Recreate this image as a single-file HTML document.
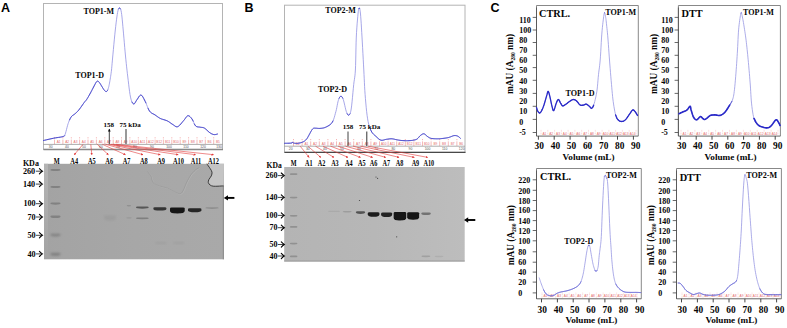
<!DOCTYPE html>
<html><head><meta charset="utf-8"><title>Figure</title><style>
html,body{margin:0;padding:0;background:#fff;width:787px;height:328px;overflow:hidden}
svg{display:block}
text{font-family:"Liberation Serif",serif;font-weight:bold;fill:#050505}
.sans{font-family:"Liberation Sans",sans-serif;font-weight:bold;fill:#000}
.fr{font-family:"Liberation Sans",sans-serif;font-weight:normal;fill:#e46a6a;font-size:3.2px}
.tk{font-family:"Liberation Sans",sans-serif;font-weight:normal;fill:#555;font-size:3.4px}
</style></head><body>
<svg width="787" height="328" viewBox="0 0 787 328">
<defs>
<filter id="blur1" x="-20%" y="-50%" width="140%" height="200%"><feGaussianBlur stdDeviation="0.8"/></filter>
<filter id="blur2" x="-20%" y="-50%" width="140%" height="200%"><feGaussianBlur stdDeviation="1.3"/></filter>
<marker id="ra" viewBox="0 0 6 6" refX="5" refY="3" markerWidth="4" markerHeight="4" orient="auto"><path d="M0,0 L6,3 L0,6 z" fill="#e23b3b"/></marker>
</defs>

<text class="sans" x="1" y="12" font-size="12.5">A</text>
<text class="sans" x="244.5" y="12" font-size="12.5">B</text>
<text class="sans" x="490.5" y="12" font-size="12.5">C</text>
<rect x="43.5" y="3.5" width="179.0" height="145.9" fill="#fff" stroke="#b4b4b4" stroke-width="1"/>
<line x1="54.5" y1="137.2" x2="54.5" y2="138.4" stroke="#e77" stroke-width="0.55"/>
<line x1="54.5" y1="139.6" x2="54.5" y2="144.1" stroke="#ec8a8a" stroke-width="0.6"/>
<line x1="62.9" y1="137.2" x2="62.9" y2="138.4" stroke="#e77" stroke-width="0.55"/>
<line x1="62.9" y1="139.6" x2="62.9" y2="144.1" stroke="#ec8a8a" stroke-width="0.6"/>
<line x1="71.3" y1="137.2" x2="71.3" y2="138.4" stroke="#e77" stroke-width="0.55"/>
<line x1="71.3" y1="139.6" x2="71.3" y2="144.1" stroke="#ec8a8a" stroke-width="0.6"/>
<line x1="79.6" y1="137.2" x2="79.6" y2="138.4" stroke="#e77" stroke-width="0.55"/>
<line x1="79.6" y1="139.6" x2="79.6" y2="144.1" stroke="#ec8a8a" stroke-width="0.6"/>
<line x1="88.0" y1="137.2" x2="88.0" y2="138.4" stroke="#e77" stroke-width="0.55"/>
<line x1="88.0" y1="139.6" x2="88.0" y2="144.1" stroke="#ec8a8a" stroke-width="0.6"/>
<line x1="96.4" y1="137.2" x2="96.4" y2="138.4" stroke="#e77" stroke-width="0.55"/>
<line x1="96.4" y1="139.6" x2="96.4" y2="144.1" stroke="#ec8a8a" stroke-width="0.6"/>
<line x1="104.8" y1="137.2" x2="104.8" y2="138.4" stroke="#e77" stroke-width="0.55"/>
<line x1="104.8" y1="139.6" x2="104.8" y2="144.1" stroke="#ec8a8a" stroke-width="0.6"/>
<line x1="113.2" y1="137.2" x2="113.2" y2="138.4" stroke="#e77" stroke-width="0.55"/>
<line x1="113.2" y1="139.6" x2="113.2" y2="144.1" stroke="#ec8a8a" stroke-width="0.6"/>
<line x1="121.5" y1="137.2" x2="121.5" y2="138.4" stroke="#e77" stroke-width="0.55"/>
<line x1="121.5" y1="139.6" x2="121.5" y2="144.1" stroke="#ec8a8a" stroke-width="0.6"/>
<line x1="129.9" y1="137.2" x2="129.9" y2="138.4" stroke="#e77" stroke-width="0.55"/>
<line x1="129.9" y1="139.6" x2="129.9" y2="144.1" stroke="#ec8a8a" stroke-width="0.6"/>
<line x1="138.3" y1="137.2" x2="138.3" y2="138.4" stroke="#e77" stroke-width="0.55"/>
<line x1="138.3" y1="139.6" x2="138.3" y2="144.1" stroke="#ec8a8a" stroke-width="0.6"/>
<line x1="146.7" y1="137.2" x2="146.7" y2="138.4" stroke="#e77" stroke-width="0.55"/>
<line x1="146.7" y1="139.6" x2="146.7" y2="144.1" stroke="#ec8a8a" stroke-width="0.6"/>
<line x1="155.1" y1="137.2" x2="155.1" y2="138.4" stroke="#e77" stroke-width="0.55"/>
<line x1="155.1" y1="139.6" x2="155.1" y2="144.1" stroke="#ec8a8a" stroke-width="0.6"/>
<line x1="163.4" y1="137.2" x2="163.4" y2="138.4" stroke="#e77" stroke-width="0.55"/>
<line x1="163.4" y1="139.6" x2="163.4" y2="144.1" stroke="#ec8a8a" stroke-width="0.6"/>
<line x1="171.8" y1="137.2" x2="171.8" y2="138.4" stroke="#e77" stroke-width="0.55"/>
<line x1="171.8" y1="139.6" x2="171.8" y2="144.1" stroke="#ec8a8a" stroke-width="0.6"/>
<line x1="180.2" y1="137.2" x2="180.2" y2="138.4" stroke="#e77" stroke-width="0.55"/>
<line x1="180.2" y1="139.6" x2="180.2" y2="144.1" stroke="#ec8a8a" stroke-width="0.6"/>
<line x1="188.6" y1="137.2" x2="188.6" y2="138.4" stroke="#e77" stroke-width="0.55"/>
<line x1="188.6" y1="139.6" x2="188.6" y2="144.1" stroke="#ec8a8a" stroke-width="0.6"/>
<line x1="197.0" y1="137.2" x2="197.0" y2="138.4" stroke="#e77" stroke-width="0.55"/>
<line x1="197.0" y1="139.6" x2="197.0" y2="144.1" stroke="#ec8a8a" stroke-width="0.6"/>
<line x1="205.3" y1="137.2" x2="205.3" y2="138.4" stroke="#e77" stroke-width="0.55"/>
<line x1="205.3" y1="139.6" x2="205.3" y2="144.1" stroke="#ec8a8a" stroke-width="0.6"/>
<line x1="213.7" y1="137.2" x2="213.7" y2="138.4" stroke="#e77" stroke-width="0.55"/>
<line x1="213.7" y1="139.6" x2="213.7" y2="144.1" stroke="#ec8a8a" stroke-width="0.6"/>
<text class="fr" x="58.7" y="142.8" text-anchor="middle">A1</text>
<text class="fr" x="67.1" y="142.8" text-anchor="middle">A2</text>
<text class="fr" x="75.5" y="142.8" text-anchor="middle">A3</text>
<text class="fr" x="83.8" y="142.8" text-anchor="middle">A4</text>
<text class="fr" x="92.2" y="142.8" text-anchor="middle">A5</text>
<text class="fr" x="100.6" y="142.8" text-anchor="middle">A6</text>
<text class="fr" x="109.0" y="142.8" text-anchor="middle">A7</text>
<text class="fr" x="117.4" y="142.8" text-anchor="middle">A8</text>
<text class="fr" x="125.7" y="142.8" text-anchor="middle">A9</text>
<text class="fr" x="134.1" y="142.8" text-anchor="middle">A10</text>
<text class="fr" x="142.5" y="142.8" text-anchor="middle">A11</text>
<text class="fr" x="150.9" y="142.8" text-anchor="middle">A12</text>
<text class="fr" x="159.2" y="142.8" text-anchor="middle">B12</text>
<text class="fr" x="167.6" y="142.8" text-anchor="middle">B11</text>
<text class="fr" x="176.0" y="142.8" text-anchor="middle">B10</text>
<text class="fr" x="184.4" y="142.8" text-anchor="middle">B9</text>
<text class="fr" x="192.8" y="142.8" text-anchor="middle">B8</text>
<text class="fr" x="201.2" y="142.8" text-anchor="middle">B7</text>
<text class="fr" x="209.5" y="142.8" text-anchor="middle">B6</text>
<text class="fr" x="217.9" y="142.8" text-anchor="middle">B5</text>
<line x1="43.5" y1="144.4" x2="222.5" y2="144.4" stroke="#8a8a8a" stroke-width="0.7"/>
<text class="tk" x="50.7" y="147.8" text-anchor="middle">30</text>
<text class="tk" x="67.0" y="147.8" text-anchor="middle">40</text>
<text class="tk" x="84.0" y="147.8" text-anchor="middle">50</text>
<text class="tk" x="101.0" y="147.8" text-anchor="middle">60</text>
<text class="tk" x="118.0" y="147.8" text-anchor="middle">70</text>
<text class="tk" x="135.0" y="147.8" text-anchor="middle">80</text>
<text class="tk" x="152.0" y="147.8" text-anchor="middle">90</text>
<text class="tk" x="169.0" y="147.8" text-anchor="middle">100</text>
<text class="tk" x="186.0" y="147.8" text-anchor="middle">110</text>
<text class="tk" x="203.0" y="147.8" text-anchor="middle">120</text>
<text class="tk" x="219.0" y="147.8" text-anchor="middle">130</text>
<line x1="43.5" y1="149.4" x2="223.0" y2="149.4" stroke="#888" stroke-width="1.5"/>
<polyline points="43.50,140.50 44.62,140.24 46.19,139.88 48.03,139.45 50.00,139.00 51.95,138.57 53.70,138.20 55.36,137.90 57.07,137.64 58.74,137.39 60.31,137.15 61.69,136.89 62.80,136.60 63.57,136.37 64.04,136.23 64.33,136.07 64.53,135.79 64.75,135.27 65.10,134.40 65.56,133.06 66.04,131.32 66.55,129.34 67.07,127.29 67.59,125.36 68.10,123.70 68.60,122.30 69.10,121.01 69.60,119.83 70.11,118.75 70.64,117.77 71.20,116.90 71.79,116.18 72.41,115.62 73.06,115.16 73.71,114.75 74.36,114.31 75.00,113.80 75.61,113.25 76.21,112.72 76.80,112.17 77.41,111.57 78.07,110.86 78.80,110.00 79.64,108.91 80.59,107.61 81.58,106.21 82.55,104.82 83.44,103.54 84.20,102.50 84.78,101.75 85.23,101.23 85.61,100.83 85.96,100.44 86.34,99.97 86.80,99.30 87.35,98.42 87.96,97.42 88.59,96.33 89.23,95.19 89.88,94.03 90.50,92.90 91.12,91.75 91.76,90.53 92.39,89.31 93.00,88.11 93.58,86.99 94.10,86.00 94.57,85.12 94.99,84.30 95.38,83.56 95.74,82.91 96.08,82.35 96.40,81.90 96.69,81.56 96.95,81.33 97.19,81.19 97.41,81.14 97.65,81.14 97.90,81.20 98.16,81.31 98.43,81.49 98.70,81.72 98.98,82.03 99.28,82.39 99.60,82.80 99.95,83.30 100.32,83.88 100.71,84.53 101.11,85.20 101.51,85.86 101.90,86.50 102.29,87.13 102.69,87.79 103.08,88.44 103.47,89.07 103.85,89.63 104.20,90.10 104.53,90.49 104.85,90.81 105.16,91.08 105.45,91.29 105.73,91.43 106.00,91.50 106.26,91.52 106.50,91.49 106.73,91.39 106.95,91.22 107.17,90.96 107.40,90.60 107.63,90.14 107.87,89.59 108.10,88.96 108.33,88.23 108.57,87.41 108.80,86.50 109.03,85.48 109.27,84.34 109.51,83.11 109.74,81.81 109.97,80.47 110.20,79.10 110.42,77.72 110.65,76.30 110.87,74.84 111.09,73.31 111.30,71.70 111.50,70.00 111.68,68.35 111.82,66.81 111.96,65.18 112.12,63.29 112.33,60.96 112.60,58.00 112.96,54.14 113.40,49.46 113.87,44.34 114.37,39.15 114.85,34.24 115.30,30.00 115.71,26.33 116.11,22.91 116.50,19.78 116.88,16.98 117.24,14.54 117.60,12.50 117.94,10.89 118.26,9.70 118.57,8.88 118.88,8.35 119.19,8.08 119.50,8.00 119.82,8.08 120.14,8.35 120.46,8.88 120.77,9.70 121.09,10.89 121.40,12.50 121.70,14.57 121.99,17.06 122.28,19.91 122.57,23.06 122.87,26.44 123.20,30.00 123.55,33.90 123.93,38.22 124.32,42.78 124.71,47.39 125.11,51.86 125.50,56.00 125.88,59.80 126.25,63.40 126.62,66.87 127.00,70.25 127.39,73.61 127.80,77.00 128.22,80.55 128.66,84.26 129.10,87.93 129.56,91.41 130.02,94.52 130.50,97.10 130.99,99.14 131.50,100.79 132.01,102.07 132.54,103.01 133.07,103.65 133.60,104.00 134.13,103.95 134.66,103.44 135.19,102.63 135.73,101.66 136.30,100.66 136.90,99.80 137.54,98.91 138.20,97.83 138.89,96.74 139.60,95.79 140.30,95.16 141.00,95.00 141.69,95.38 142.39,96.18 143.08,97.29 143.78,98.60 144.49,100.01 145.20,101.40 145.91,102.91 146.61,104.64 147.32,106.47 148.05,108.26 148.81,109.88 149.60,111.20 150.44,112.17 151.33,112.89 152.24,113.44 153.16,113.90 154.09,114.36 155.00,114.90 155.88,115.52 156.74,116.15 157.61,116.78 158.49,117.39 159.41,117.97 160.40,118.50 161.48,118.96 162.64,119.34 163.84,119.70 165.05,120.06 166.21,120.44 167.30,120.90 168.30,121.45 169.26,122.06 170.18,122.71 171.06,123.36 171.93,123.97 172.80,124.50 173.64,125.05 174.43,125.65 175.21,126.22 176.00,126.65 176.82,126.84 177.70,126.70 178.67,126.12 179.72,125.17 180.80,123.98 181.87,122.70 182.89,121.46 183.80,120.40 184.60,119.43 185.31,118.42 185.98,117.45 186.61,116.61 187.24,116.00 187.90,115.70 188.59,115.75 189.29,116.07 189.98,116.62 190.67,117.34 191.35,118.15 192.00,119.00 192.62,120.01 193.20,121.24 193.77,122.58 194.34,123.88 194.95,125.03 195.60,125.90 196.31,126.45 197.07,126.76 197.86,126.93 198.66,127.00 199.44,127.07 200.20,127.20 200.91,127.33 201.59,127.39 202.25,127.44 202.93,127.54 203.64,127.74 204.40,128.10 205.24,128.68 206.16,129.46 207.10,130.34 208.04,131.23 208.96,132.05 209.80,132.70 210.58,133.20 211.31,133.63 212.01,133.97 212.69,134.25 213.35,134.46 214.00,134.60 214.68,134.64 215.38,134.56 216.06,134.42 216.69,134.25 217.22,134.09 217.60,134.00" fill="none" stroke="#8a8ae0" stroke-width="0.75" stroke-linejoin="round"/>
<polyline points="43.50,140.50 44.62,140.24 46.19,139.88 48.03,139.45 50.00,139.00 51.95,138.57 53.70,138.20 55.36,137.90 57.07,137.64 58.74,137.39 60.31,137.15 61.69,136.89 62.80,136.60 63.57,136.37 64.04,136.23 64.33,136.07 64.53,135.79" fill="none" stroke="#3c3cc8" stroke-width="0.85" stroke-linejoin="round" stroke-linecap="round"/>
<polyline points="69.60,119.83 70.11,118.75 70.64,117.77 71.20,116.90 71.79,116.18 72.41,115.62 73.06,115.16 73.71,114.75 74.36,114.31 75.00,113.80 75.61,113.25 76.21,112.72 76.80,112.17 77.41,111.57 78.07,110.86 78.80,110.00 79.64,108.91 80.59,107.61 81.58,106.21 82.55,104.82 83.44,103.54 84.20,102.50 84.78,101.75 85.23,101.23 85.61,100.83 85.96,100.44 86.34,99.97 86.80,99.30 87.35,98.42 87.96,97.42 88.59,96.33 89.23,95.19 89.88,94.03 90.50,92.90 91.12,91.75 91.76,90.53 92.39,89.31 93.00,88.11 93.58,86.99 94.10,86.00 94.57,85.12 94.99,84.30 95.38,83.56 95.74,82.91 96.08,82.35 96.40,81.90 96.69,81.56 96.95,81.33 97.19,81.19 97.41,81.14 97.65,81.14 97.90,81.20 98.16,81.31 98.43,81.49 98.70,81.72 98.98,82.03 99.28,82.39 99.60,82.80 99.95,83.30 100.32,83.88 100.71,84.53 101.11,85.20 101.51,85.86 101.90,86.50 102.29,87.13 102.69,87.79 103.08,88.44 103.47,89.07 103.85,89.63 104.20,90.10 104.53,90.49 104.85,90.81 105.16,91.08 105.45,91.29 105.73,91.43 106.00,91.50 106.26,91.52 106.50,91.49 106.73,91.39 106.95,91.22 107.17,90.96 107.40,90.60 107.63,90.14" fill="none" stroke="#3c3cc8" stroke-width="0.85" stroke-linejoin="round" stroke-linecap="round"/>
<polyline points="118.57,8.88 118.88,8.35 119.19,8.08 119.50,8.00 119.82,8.08 120.14,8.35 120.46,8.88" fill="none" stroke="#3c3cc8" stroke-width="0.85" stroke-linejoin="round" stroke-linecap="round"/>
<polyline points="132.01,102.07 132.54,103.01 133.07,103.65 133.60,104.00 134.13,103.95 134.66,103.44 135.19,102.63 135.73,101.66 136.30,100.66 136.90,99.80 137.54,98.91 138.20,97.83 138.89,96.74 139.60,95.79 140.30,95.16 141.00,95.00 141.69,95.38 142.39,96.18 143.08,97.29 143.78,98.60 144.49,100.01 145.20,101.40 145.91,102.91" fill="none" stroke="#3c3cc8" stroke-width="0.85" stroke-linejoin="round" stroke-linecap="round"/>
<polyline points="148.05,108.26 148.81,109.88 149.60,111.20 150.44,112.17 151.33,112.89 152.24,113.44 153.16,113.90 154.09,114.36 155.00,114.90 155.88,115.52 156.74,116.15 157.61,116.78 158.49,117.39 159.41,117.97 160.40,118.50 161.48,118.96 162.64,119.34 163.84,119.70 165.05,120.06 166.21,120.44 167.30,120.90 168.30,121.45 169.26,122.06 170.18,122.71 171.06,123.36 171.93,123.97 172.80,124.50 173.64,125.05 174.43,125.65 175.21,126.22 176.00,126.65 176.82,126.84 177.70,126.70 178.67,126.12 179.72,125.17 180.80,123.98 181.87,122.70 182.89,121.46 183.80,120.40 184.60,119.43 185.31,118.42 185.98,117.45 186.61,116.61 187.24,116.00 187.90,115.70 188.59,115.75 189.29,116.07 189.98,116.62 190.67,117.34 191.35,118.15 192.00,119.00 192.62,120.01 193.20,121.24" fill="none" stroke="#3c3cc8" stroke-width="0.85" stroke-linejoin="round" stroke-linecap="round"/>
<polyline points="194.34,123.88 194.95,125.03 195.60,125.90 196.31,126.45 197.07,126.76 197.86,126.93 198.66,127.00 199.44,127.07 200.20,127.20 200.91,127.33 201.59,127.39 202.25,127.44 202.93,127.54 203.64,127.74 204.40,128.10 205.24,128.68 206.16,129.46 207.10,130.34 208.04,131.23 208.96,132.05 209.80,132.70 210.58,133.20 211.31,133.63 212.01,133.97 212.69,134.25 213.35,134.46 214.00,134.60 214.68,134.64 215.38,134.56 216.06,134.42 216.69,134.25 217.22,134.09 217.60,134.00" fill="none" stroke="#3c3cc8" stroke-width="0.85" stroke-linejoin="round" stroke-linecap="round"/>
<text x="98.8" y="13.9" font-size="8" text-anchor="middle">TOP1-M</text>
<text x="89.7" y="78.1" font-size="8" text-anchor="middle">TOP1-D</text>
<text x="108.8" y="126.9" font-size="7" text-anchor="middle">158</text>
<text x="130.2" y="126.9" font-size="7" text-anchor="middle">75 kDa</text>
<line x1="109.3" y1="129" x2="109.3" y2="144" stroke="#111" stroke-width="0.8"/>
<path d="M107.9,131.5 L109.3,128.8 L110.7,131.5z" fill="#111"/>
<line x1="126" y1="129" x2="126" y2="144" stroke="#555" stroke-width="1.2"/>
<rect x="284.5" y="5.2" width="180.5" height="147.1" fill="#fff" stroke="#b4b4b4" stroke-width="1"/>
<line x1="293.5" y1="139.0" x2="293.5" y2="140.2" stroke="#e77" stroke-width="0.55"/>
<line x1="293.5" y1="141.4" x2="293.5" y2="145.9" stroke="#ec8a8a" stroke-width="0.6"/>
<line x1="302.1" y1="139.0" x2="302.1" y2="140.2" stroke="#e77" stroke-width="0.55"/>
<line x1="302.1" y1="141.4" x2="302.1" y2="145.9" stroke="#ec8a8a" stroke-width="0.6"/>
<line x1="310.7" y1="139.0" x2="310.7" y2="140.2" stroke="#e77" stroke-width="0.55"/>
<line x1="310.7" y1="141.4" x2="310.7" y2="145.9" stroke="#ec8a8a" stroke-width="0.6"/>
<line x1="319.3" y1="139.0" x2="319.3" y2="140.2" stroke="#e77" stroke-width="0.55"/>
<line x1="319.3" y1="141.4" x2="319.3" y2="145.9" stroke="#ec8a8a" stroke-width="0.6"/>
<line x1="327.9" y1="139.0" x2="327.9" y2="140.2" stroke="#e77" stroke-width="0.55"/>
<line x1="327.9" y1="141.4" x2="327.9" y2="145.9" stroke="#ec8a8a" stroke-width="0.6"/>
<line x1="336.5" y1="139.0" x2="336.5" y2="140.2" stroke="#e77" stroke-width="0.55"/>
<line x1="336.5" y1="141.4" x2="336.5" y2="145.9" stroke="#ec8a8a" stroke-width="0.6"/>
<line x1="345.1" y1="139.0" x2="345.1" y2="140.2" stroke="#e77" stroke-width="0.55"/>
<line x1="345.1" y1="141.4" x2="345.1" y2="145.9" stroke="#ec8a8a" stroke-width="0.6"/>
<line x1="353.7" y1="139.0" x2="353.7" y2="140.2" stroke="#e77" stroke-width="0.55"/>
<line x1="353.7" y1="141.4" x2="353.7" y2="145.9" stroke="#ec8a8a" stroke-width="0.6"/>
<line x1="362.3" y1="139.0" x2="362.3" y2="140.2" stroke="#e77" stroke-width="0.55"/>
<line x1="362.3" y1="141.4" x2="362.3" y2="145.9" stroke="#ec8a8a" stroke-width="0.6"/>
<line x1="370.9" y1="139.0" x2="370.9" y2="140.2" stroke="#e77" stroke-width="0.55"/>
<line x1="370.9" y1="141.4" x2="370.9" y2="145.9" stroke="#ec8a8a" stroke-width="0.6"/>
<line x1="379.5" y1="139.0" x2="379.5" y2="140.2" stroke="#e77" stroke-width="0.55"/>
<line x1="379.5" y1="141.4" x2="379.5" y2="145.9" stroke="#ec8a8a" stroke-width="0.6"/>
<line x1="388.1" y1="139.0" x2="388.1" y2="140.2" stroke="#e77" stroke-width="0.55"/>
<line x1="388.1" y1="141.4" x2="388.1" y2="145.9" stroke="#ec8a8a" stroke-width="0.6"/>
<line x1="396.7" y1="139.0" x2="396.7" y2="140.2" stroke="#e77" stroke-width="0.55"/>
<line x1="396.7" y1="141.4" x2="396.7" y2="145.9" stroke="#ec8a8a" stroke-width="0.6"/>
<line x1="405.3" y1="139.0" x2="405.3" y2="140.2" stroke="#e77" stroke-width="0.55"/>
<line x1="405.3" y1="141.4" x2="405.3" y2="145.9" stroke="#ec8a8a" stroke-width="0.6"/>
<line x1="413.9" y1="139.0" x2="413.9" y2="140.2" stroke="#e77" stroke-width="0.55"/>
<line x1="413.9" y1="141.4" x2="413.9" y2="145.9" stroke="#ec8a8a" stroke-width="0.6"/>
<line x1="422.5" y1="139.0" x2="422.5" y2="140.2" stroke="#e77" stroke-width="0.55"/>
<line x1="422.5" y1="141.4" x2="422.5" y2="145.9" stroke="#ec8a8a" stroke-width="0.6"/>
<line x1="431.1" y1="139.0" x2="431.1" y2="140.2" stroke="#e77" stroke-width="0.55"/>
<line x1="431.1" y1="141.4" x2="431.1" y2="145.9" stroke="#ec8a8a" stroke-width="0.6"/>
<line x1="439.7" y1="139.0" x2="439.7" y2="140.2" stroke="#e77" stroke-width="0.55"/>
<line x1="439.7" y1="141.4" x2="439.7" y2="145.9" stroke="#ec8a8a" stroke-width="0.6"/>
<line x1="448.3" y1="139.0" x2="448.3" y2="140.2" stroke="#e77" stroke-width="0.55"/>
<line x1="448.3" y1="141.4" x2="448.3" y2="145.9" stroke="#ec8a8a" stroke-width="0.6"/>
<line x1="456.9" y1="139.0" x2="456.9" y2="140.2" stroke="#e77" stroke-width="0.55"/>
<line x1="456.9" y1="141.4" x2="456.9" y2="145.9" stroke="#ec8a8a" stroke-width="0.6"/>
<text class="fr" x="297.8" y="144.6" text-anchor="middle">B2</text>
<text class="fr" x="306.4" y="144.6" text-anchor="middle">A1</text>
<text class="fr" x="315.0" y="144.6" text-anchor="middle">A2</text>
<text class="fr" x="323.6" y="144.6" text-anchor="middle">A3</text>
<text class="fr" x="332.2" y="144.6" text-anchor="middle">A4</text>
<text class="fr" x="340.8" y="144.6" text-anchor="middle">A5</text>
<text class="fr" x="349.4" y="144.6" text-anchor="middle">A6</text>
<text class="fr" x="358.0" y="144.6" text-anchor="middle">A7</text>
<text class="fr" x="366.6" y="144.6" text-anchor="middle">A8</text>
<text class="fr" x="375.2" y="144.6" text-anchor="middle">A9</text>
<text class="fr" x="383.8" y="144.6" text-anchor="middle">A10</text>
<text class="fr" x="392.4" y="144.6" text-anchor="middle">A11</text>
<text class="fr" x="401.0" y="144.6" text-anchor="middle">A12</text>
<text class="fr" x="409.6" y="144.6" text-anchor="middle">B12</text>
<text class="fr" x="418.2" y="144.6" text-anchor="middle">B11</text>
<text class="fr" x="426.8" y="144.6" text-anchor="middle">B10</text>
<text class="fr" x="435.4" y="144.6" text-anchor="middle">B9</text>
<text class="fr" x="444.0" y="144.6" text-anchor="middle">B8</text>
<text class="fr" x="452.6" y="144.6" text-anchor="middle">B7</text>
<text class="fr" x="461.2" y="144.6" text-anchor="middle">B6</text>
<line x1="284.5" y1="146.2" x2="465.0" y2="146.2" stroke="#8a8a8a" stroke-width="0.7"/>
<text class="tk" x="290.7" y="149.6" text-anchor="middle">20</text>
<text class="tk" x="307.8" y="149.6" text-anchor="middle">30</text>
<text class="tk" x="324.9" y="149.6" text-anchor="middle">40</text>
<text class="tk" x="342.0" y="149.6" text-anchor="middle">50</text>
<text class="tk" x="359.1" y="149.6" text-anchor="middle">60</text>
<text class="tk" x="376.2" y="149.6" text-anchor="middle">70</text>
<text class="tk" x="393.3" y="149.6" text-anchor="middle">80</text>
<text class="tk" x="410.4" y="149.6" text-anchor="middle">90</text>
<text class="tk" x="427.5" y="149.6" text-anchor="middle">100</text>
<text class="tk" x="444.6" y="149.6" text-anchor="middle">110</text>
<text class="tk" x="461.7" y="149.6" text-anchor="middle">120</text>
<line x1="284.5" y1="152.3" x2="465.5" y2="152.3" stroke="#2a2a2a" stroke-width="1.0"/>
<polyline points="284.50,143.30 285.29,143.28 286.44,143.27 287.77,143.24 289.13,143.21 290.32,143.16 291.20,143.10 291.71,143.00 292.00,142.85 292.12,142.69 292.18,142.55 292.25,142.44 292.40,142.40 292.61,142.44 292.81,142.54 293.01,142.69 293.25,142.84 293.54,142.99 293.90,143.10 294.35,143.19 294.86,143.27 295.43,143.35 296.04,143.40 296.67,143.42 297.30,143.40 297.97,143.33 298.68,143.21 299.42,143.06 300.15,142.89 300.85,142.70 301.50,142.50 302.09,142.29 302.64,142.07 303.17,141.84 303.67,141.58 304.14,141.30 304.60,141.00 305.03,140.68 305.43,140.35 305.81,139.99 306.17,139.61 306.53,139.18 306.90,138.70 307.27,138.16 307.64,137.56 308.00,136.92 308.36,136.25 308.73,135.57 309.10,134.90 309.48,134.20 309.87,133.46 310.27,132.71 310.66,131.97 311.04,131.29 311.40,130.70 311.73,130.18 312.03,129.71 312.33,129.30 312.62,128.94 312.94,128.64 313.30,128.40 313.69,128.24 314.09,128.16 314.52,128.14 314.97,128.16 315.47,128.19 316.00,128.20 316.57,128.23 317.17,128.29 317.81,128.36 318.49,128.42 319.22,128.44 320.00,128.40 320.84,128.32 321.74,128.24 322.69,128.11 323.68,127.92 324.68,127.62 325.70,127.20 326.77,126.68 327.91,126.09 329.07,125.41 330.21,124.59 331.27,123.59 332.20,122.40 332.99,120.94 333.69,119.22 334.31,117.34 334.87,115.37 335.39,113.39 335.90,111.50 336.38,109.59 336.80,107.59 337.18,105.58 337.55,103.67 337.92,101.94 338.30,100.50 338.70,99.32 339.10,98.33 339.49,97.52 339.89,96.91 340.29,96.50 340.70,96.30 341.10,96.28 341.50,96.43 341.91,96.77 342.32,97.35 342.75,98.18 343.20,99.30 343.69,100.90 344.21,103.00 344.75,105.36 345.29,107.73 345.81,109.86 346.30,111.50 346.75,112.71 347.18,113.70 347.59,114.44 348.00,114.94 348.40,115.16 348.80,115.10 349.20,114.86 349.60,114.46 350.00,113.80 350.40,112.75 350.80,111.19 351.20,109.00 351.62,105.88 352.06,101.86 352.49,97.33 352.92,92.69 353.33,88.31 353.70,84.60 354.04,81.81 354.36,79.69 354.65,77.84 354.92,75.87 355.17,73.38 355.40,70.00 355.59,65.45 355.73,59.99 355.85,54.03 355.97,47.94 356.11,42.13 356.30,37.00 356.54,32.39 356.83,27.96 357.13,23.81 357.44,20.04 357.74,16.73 358.00,14.00 358.23,11.88 358.43,10.30 358.62,9.19 358.81,8.48 359.00,8.11 359.20,8.00 359.41,8.11 359.62,8.48 359.83,9.19 360.05,10.30 360.27,11.88 360.50,14.00 360.73,16.73 360.97,20.04 361.22,23.81 361.47,27.96 361.73,32.39 362.00,37.00 362.29,42.02 362.60,47.58 362.91,53.41 363.23,59.27 363.53,64.88 363.80,70.00 364.03,74.56 364.23,78.77 364.41,82.74 364.60,86.59 364.82,90.43 365.10,94.40 365.43,98.61 365.80,102.99 366.21,107.36 366.64,111.57 367.11,115.44 367.60,118.80 368.12,121.62 368.67,124.02 369.25,126.08 369.86,127.88 370.51,129.50 371.20,131.00 371.94,132.33 372.74,133.40 373.57,134.28 374.42,135.05 375.27,135.77 376.10,136.50 376.91,137.27 377.71,138.04 378.51,138.75 379.32,139.37 380.15,139.87 381.00,140.20 381.88,140.31 382.79,140.23 383.72,140.01 384.65,139.74 385.58,139.48 386.50,139.30 387.40,139.18 388.30,139.04 389.20,138.93 390.10,138.83 391.00,138.79 391.90,138.80 392.81,138.90 393.73,139.06 394.64,139.28 395.56,139.50 396.48,139.72 397.40,139.90 398.30,140.05 399.17,140.19 400.04,140.32 400.93,140.43 401.88,140.53 402.90,140.60 404.02,140.66 405.23,140.70 406.49,140.72 407.77,140.72 409.01,140.68 410.20,140.60 411.35,140.49 412.50,140.35 413.62,140.18 414.70,139.96 415.70,139.67 416.60,139.30 417.37,138.80 418.04,138.17 418.63,137.48 419.17,136.78 419.72,136.13 420.30,135.60 420.90,135.14 421.50,134.69 422.10,134.29 422.70,133.99 423.30,133.81 423.90,133.80 424.51,134.01 425.13,134.43 425.75,134.97 426.37,135.57 426.99,136.14 427.60,136.60 428.17,136.97 428.70,137.33 429.23,137.65 429.80,137.94 430.44,138.19 431.20,138.40 432.12,138.56 433.16,138.67 434.28,138.74 435.43,138.78 436.55,138.80 437.60,138.80 438.57,138.79 439.50,138.74 440.41,138.68 441.30,138.60 442.19,138.50 443.10,138.40 444.02,138.29 444.93,138.17 445.85,138.04 446.77,137.89 447.68,137.71 448.60,137.50 449.54,137.21 450.50,136.85 451.46,136.46 452.40,136.09 453.29,135.78 454.10,135.60 454.83,135.54 455.50,135.56 456.12,135.64 456.71,135.79 457.26,135.98 457.80,136.20 458.34,136.50 458.87,136.90 459.38,137.34 459.84,137.77 460.22,138.14 460.50,138.40" fill="none" stroke="#8a8ae0" stroke-width="0.75" stroke-linejoin="round"/>
<polyline points="284.50,143.30 285.29,143.28 286.44,143.27 287.77,143.24 289.13,143.21 290.32,143.16 291.20,143.10 291.71,143.00 292.00,142.85 292.12,142.69" fill="none" stroke="#3c3cc8" stroke-width="0.85" stroke-linejoin="round" stroke-linecap="round"/>
<polyline points="292.18,142.55 292.25,142.44 292.40,142.40 292.61,142.44 292.81,142.54 293.01,142.69 293.25,142.84 293.54,142.99 293.90,143.10 294.35,143.19 294.86,143.27 295.43,143.35 296.04,143.40 296.67,143.42 297.30,143.40 297.97,143.33 298.68,143.21 299.42,143.06 300.15,142.89 300.85,142.70 301.50,142.50 302.09,142.29 302.64,142.07 303.17,141.84 303.67,141.58 304.14,141.30 304.60,141.00 305.03,140.68 305.43,140.35 305.81,139.99 306.17,139.61 306.53,139.18 306.90,138.70 307.27,138.16 307.64,137.56 308.00,136.92 308.36,136.25 308.73,135.57 309.10,134.90 309.48,134.20 309.87,133.46 310.27,132.71 310.66,131.97 311.04,131.29 311.40,130.70 311.73,130.18 312.03,129.71 312.33,129.30 312.62,128.94 312.94,128.64 313.30,128.40 313.69,128.24 314.09,128.16 314.52,128.14 314.97,128.16 315.47,128.19 316.00,128.20 316.57,128.23 317.17,128.29 317.81,128.36 318.49,128.42 319.22,128.44 320.00,128.40 320.84,128.32 321.74,128.24 322.69,128.11 323.68,127.92 324.68,127.62 325.70,127.20 326.77,126.68 327.91,126.09 329.07,125.41 330.21,124.59 331.27,123.59 332.20,122.40 332.99,120.94" fill="none" stroke="#3c3cc8" stroke-width="0.85" stroke-linejoin="round" stroke-linecap="round"/>
<polyline points="339.10,98.33 339.49,97.52 339.89,96.91 340.29,96.50 340.70,96.30 341.10,96.28 341.50,96.43 341.91,96.77 342.32,97.35 342.75,98.18" fill="none" stroke="#3c3cc8" stroke-width="0.85" stroke-linejoin="round" stroke-linecap="round"/>
<polyline points="347.18,113.70 347.59,114.44 348.00,114.94 348.40,115.16 348.80,115.10 349.20,114.86 349.60,114.46 350.00,113.80" fill="none" stroke="#3c3cc8" stroke-width="0.85" stroke-linejoin="round" stroke-linecap="round"/>
<polyline points="358.81,8.48 359.00,8.11 359.20,8.00 359.41,8.11 359.62,8.48" fill="none" stroke="#3c3cc8" stroke-width="0.85" stroke-linejoin="round" stroke-linecap="round"/>
<polyline points="370.51,129.50 371.20,131.00 371.94,132.33 372.74,133.40 373.57,134.28 374.42,135.05 375.27,135.77 376.10,136.50 376.91,137.27 377.71,138.04 378.51,138.75 379.32,139.37 380.15,139.87 381.00,140.20 381.88,140.31 382.79,140.23 383.72,140.01 384.65,139.74 385.58,139.48 386.50,139.30 387.40,139.18 388.30,139.04 389.20,138.93 390.10,138.83 391.00,138.79 391.90,138.80 392.81,138.90 393.73,139.06 394.64,139.28 395.56,139.50 396.48,139.72 397.40,139.90 398.30,140.05 399.17,140.19 400.04,140.32 400.93,140.43 401.88,140.53 402.90,140.60 404.02,140.66 405.23,140.70 406.49,140.72 407.77,140.72 409.01,140.68 410.20,140.60 411.35,140.49 412.50,140.35 413.62,140.18 414.70,139.96 415.70,139.67 416.60,139.30 417.37,138.80 418.04,138.17 418.63,137.48 419.17,136.78 419.72,136.13 420.30,135.60 420.90,135.14 421.50,134.69 422.10,134.29 422.70,133.99 423.30,133.81 423.90,133.80 424.51,134.01 425.13,134.43 425.75,134.97 426.37,135.57 426.99,136.14 427.60,136.60 428.17,136.97 428.70,137.33 429.23,137.65 429.80,137.94 430.44,138.19 431.20,138.40 432.12,138.56 433.16,138.67 434.28,138.74 435.43,138.78 436.55,138.80 437.60,138.80 438.57,138.79 439.50,138.74 440.41,138.68 441.30,138.60 442.19,138.50 443.10,138.40 444.02,138.29 444.93,138.17 445.85,138.04 446.77,137.89 447.68,137.71 448.60,137.50 449.54,137.21 450.50,136.85 451.46,136.46 452.40,136.09 453.29,135.78 454.10,135.60 454.83,135.54 455.50,135.56 456.12,135.64 456.71,135.79 457.26,135.98 457.80,136.20 458.34,136.50 458.87,136.90 459.38,137.34 459.84,137.77 460.22,138.14 460.50,138.40" fill="none" stroke="#3c3cc8" stroke-width="0.85" stroke-linejoin="round" stroke-linecap="round"/>
<text x="340.5" y="13.2" font-size="8" text-anchor="middle">TOP2-M</text>
<text x="332.5" y="92.4" font-size="8.1" text-anchor="middle">TOP2-D</text>
<text x="348" y="128.6" font-size="7" text-anchor="middle">158</text>
<text x="369.6" y="128.6" font-size="7" text-anchor="middle">75 kDa</text>
<line x1="348" y1="131.5" x2="348" y2="146" stroke="#111" stroke-width="0.8"/>
<line x1="366.8" y1="131.5" x2="366.8" y2="146" stroke="#333" stroke-width="1"/>
<line x1="83.0" y1="144.3" x2="74.3" y2="154.7" stroke="#e23b3b" stroke-width="0.6" marker-end="url(#ra)"/>
<line x1="90.8" y1="144.3" x2="91.8" y2="154.7" stroke="#e23b3b" stroke-width="0.6" marker-end="url(#ra)"/>
<line x1="97.2" y1="144.3" x2="108.3" y2="154.7" stroke="#e23b3b" stroke-width="0.6" marker-end="url(#ra)"/>
<line x1="102.3" y1="144.3" x2="125.4" y2="154.7" stroke="#e23b3b" stroke-width="0.6" marker-end="url(#ra)"/>
<line x1="105.5" y1="144.3" x2="143.0" y2="154.7" stroke="#e23b3b" stroke-width="0.6" marker-end="url(#ra)"/>
<line x1="108.5" y1="144.3" x2="160.3" y2="154.7" stroke="#e23b3b" stroke-width="0.6" marker-end="url(#ra)"/>
<line x1="110.8" y1="144.3" x2="178.2" y2="154.7" stroke="#e23b3b" stroke-width="0.6" marker-end="url(#ra)"/>
<line x1="113.2" y1="144.3" x2="195.5" y2="154.7" stroke="#e23b3b" stroke-width="0.6" marker-end="url(#ra)"/>
<line x1="116.0" y1="144.3" x2="213.5" y2="154.7" stroke="#e23b3b" stroke-width="0.6" marker-end="url(#ra)"/>
<line x1="300.2" y1="146.2" x2="309.1" y2="157.4" stroke="#e23b3b" stroke-width="0.6" marker-end="url(#ra)"/>
<line x1="307.9" y1="146.2" x2="320.8" y2="157.4" stroke="#e23b3b" stroke-width="0.6" marker-end="url(#ra)"/>
<line x1="315.5" y1="146.2" x2="333.9" y2="157.4" stroke="#e23b3b" stroke-width="0.6" marker-end="url(#ra)"/>
<line x1="323.0" y1="146.2" x2="347.9" y2="157.4" stroke="#e23b3b" stroke-width="0.6" marker-end="url(#ra)"/>
<line x1="330.5" y1="146.2" x2="360.5" y2="157.4" stroke="#e23b3b" stroke-width="0.6" marker-end="url(#ra)"/>
<line x1="338.0" y1="146.2" x2="372.6" y2="157.4" stroke="#e23b3b" stroke-width="0.6" marker-end="url(#ra)"/>
<line x1="345.5" y1="146.2" x2="385.7" y2="157.4" stroke="#e23b3b" stroke-width="0.6" marker-end="url(#ra)"/>
<line x1="353.0" y1="146.2" x2="399.1" y2="157.4" stroke="#e23b3b" stroke-width="0.6" marker-end="url(#ra)"/>
<line x1="360.5" y1="146.2" x2="414.3" y2="157.4" stroke="#e23b3b" stroke-width="0.6" marker-end="url(#ra)"/>
<line x1="368.0" y1="146.2" x2="427.7" y2="157.4" stroke="#e23b3b" stroke-width="0.6" marker-end="url(#ra)"/>
<defs><linearGradient id="gA" x1="0" x2="1" y1="0" y2="0"><stop offset="0" stop-color="#a3a3a3"/><stop offset="0.5" stop-color="#a7a7a7"/><stop offset="1" stop-color="#a9a9a9"/></linearGradient><linearGradient id="gB" x1="0" x2="1" y1="0" y2="0"><stop offset="0" stop-color="#b4b4b4"/><stop offset="0.5" stop-color="#b7b7b7"/><stop offset="1" stop-color="#bdbdbd"/></linearGradient><filter id="bs" x="-30%" y="-80%" width="160%" height="260%"><feGaussianBlur stdDeviation="0.55"/></filter><filter id="bm" x="-30%" y="-80%" width="160%" height="260%"><feGaussianBlur stdDeviation="0.9"/></filter></defs>
<rect x="44" y="163.8" width="180" height="95.5" fill="url(#gA)"/>
<defs><linearGradient id="gL" x1="0" x2="0" y1="0" y2="1"><stop offset="0" stop-color="#b6b6b6" stop-opacity="0.9"/><stop offset="1" stop-color="#b6b6b6" stop-opacity="0"/></linearGradient></defs>
<rect x="44" y="163.8" width="4" height="95.5" fill="url(#gL)"/>
<line x1="223.3" y1="186" x2="223.3" y2="259.3" stroke="#8a8a8a" stroke-width="1"/>
<path d="M147.7,171.7 C148.2,172.4 150.1,174.3 151.0,176.1 C151.9,177.9 151.8,181.0 153.2,182.6 C154.6,184.2 156.8,185.0 159.2,185.9 C161.6,186.8 164.6,187.0 167.4,188.1 C170.2,189.2 174.0,191.6 176.2,192.5 C178.4,193.4 179.4,194.0 180.6,193.6 C181.8,193.2 182.4,192.0 183.3,190.3 C184.2,188.7 185.2,185.7 186.1,183.7 C187.0,181.7 187.9,179.9 188.8,178.3 C189.7,176.7 190.4,175.4 191.6,173.9 C192.8,172.4 194.7,170.5 196.0,169.5 C197.3,168.5 198.7,168.1 199.2,167.8" fill="none" stroke="#b8b8b8" stroke-width="0.8" opacity="0.8" transform="translate(0.7,0.5)"/>
<path d="M147.7,171.7 C148.2,172.4 150.1,174.3 151.0,176.1 C151.9,177.9 151.8,181.0 153.2,182.6 C154.6,184.2 156.8,185.0 159.2,185.9 C161.6,186.8 164.6,187.0 167.4,188.1 C170.2,189.2 174.0,191.6 176.2,192.5 C178.4,193.4 179.4,194.0 180.6,193.6 C181.8,193.2 182.4,192.0 183.3,190.3 C184.2,188.7 185.2,185.7 186.1,183.7 C187.0,181.7 187.9,179.9 188.8,178.3 C189.7,176.7 190.4,175.4 191.6,173.9 C192.8,172.4 194.7,170.5 196.0,169.5 C197.3,168.5 198.7,168.1 199.2,167.8" fill="none" stroke="#8e8e8e" stroke-width="0.7" opacity="0.7"/>
<path d="M206.8,163.8 C207.4,164.6 209.2,167.1 210.1,168.5 C211.0,169.9 211.8,171.0 212.0,172.2 C212.2,173.4 211.8,174.7 211.3,175.9 C210.8,177.1 209.4,178.4 208.9,179.5 C208.4,180.6 208.1,181.7 208.3,182.6 C208.5,183.5 209.3,184.4 210.1,185.0 C210.9,185.6 211.9,186.0 213.2,186.2 C214.5,186.4 216.3,186.2 218.0,186.2 C219.7,186.1 222.7,185.9 223.6,185.9 L224,163.8 Z" fill="#c4c4c4"/>
<path d="M206.8,163.8 C207.4,164.6 209.2,167.1 210.1,168.5 C211.0,169.9 211.8,171.0 212.0,172.2 C212.2,173.4 211.8,174.7 211.3,175.9 C210.8,177.1 209.4,178.4 208.9,179.5 C208.4,180.6 208.1,181.7 208.3,182.6 C208.5,183.5 209.3,184.4 210.1,185.0 C210.9,185.6 211.9,186.0 213.2,186.2 C214.5,186.4 216.3,186.2 218.0,186.2 C219.7,186.1 222.7,185.9 223.6,185.9" fill="none" stroke="#2c2c2c" stroke-width="0.9"/>
<path d="M50.4,169.9 Q50.4,169.0 51.9,169.0 H59.0 Q60.5,169.0 60.5,169.9 V170.0 Q60.5,171.0 55.5,171.0 Q50.4,171.0 50.4,170.0 Z" fill="#6c6c6c" opacity="0.60" filter="url(#bs)"/>
<path d="M50.4,186.9 Q50.4,186.0 51.9,186.0 H59.0 Q60.5,186.0 60.5,186.9 V187.0 Q60.5,188.0 55.5,188.0 Q50.4,188.0 50.4,187.0 Z" fill="#6c6c6c" opacity="0.60" filter="url(#bs)"/>
<path d="M50.4,203.4 Q50.4,202.5 51.9,202.5 H59.0 Q60.5,202.5 60.5,203.4 V203.6 Q60.5,204.7 55.5,204.7 Q50.4,204.7 50.4,203.6 Z" fill="#6c6c6c" opacity="0.60" filter="url(#bs)"/>
<path d="M50.4,216.5 Q50.4,215.6 51.9,215.6 H59.0 Q60.5,215.6 60.5,216.5 V216.8 Q60.5,218.0 55.5,218.0 Q50.4,218.0 50.4,216.8 Z" fill="#6c6c6c" opacity="0.60" filter="url(#bs)"/>
<path d="M50.4,234.6 Q50.4,233.7 51.9,233.7 H59.0 Q60.5,233.7 60.5,234.6 V235.1 Q60.5,236.5 55.5,236.5 Q50.4,236.5 50.4,235.1 Z" fill="#6c6c6c" opacity="0.60" filter="url(#bm)"/>
<path d="M50.4,253.6 Q50.4,252.7 51.9,252.7 H59.0 Q60.5,252.7 60.5,253.6 V254.3 Q60.5,255.9 55.5,255.9 Q50.4,255.9 50.4,254.3 Z" fill="#6c6c6c" opacity="0.60" filter="url(#bm)"/>
<path d="M126.8,205.4 Q126.8,205.0 127.4,205.0 H130.4 Q131.0,205.0 131.0,205.4 V205.7 Q131.0,206.4 128.9,206.4 Q126.8,206.4 126.8,205.7 Z" fill="#777" opacity="0.45" filter="url(#bs)"/>
<path d="M126.5,217.6 Q126.5,217.2 127.2,217.2 H130.8 Q131.5,217.2 131.5,217.6 V217.9 Q131.5,218.6 129.0,218.6 Q126.5,218.6 126.5,217.9 Z" fill="#888" opacity="0.45" filter="url(#bs)"/>
<path d="M136.0,207.4 Q136.0,206.5 137.5,206.5 H147.2 Q148.7,206.5 148.7,207.4 V207.6 Q148.7,208.7 142.3,208.7 Q136.0,208.7 136.0,207.6 Z" fill="#4a4a4a" opacity="0.85" filter="url(#bs)"/>
<path d="M136.0,218.3 Q136.0,217.4 137.5,217.4 H147.2 Q148.7,217.4 148.7,218.3 V218.3 Q148.7,219.2 142.3,219.2 Q136.0,219.2 136.0,218.3 Z" fill="#666" opacity="0.60" filter="url(#bs)"/>
<path d="M104.0,216.4 Q104.0,215.5 105.5,215.5 H114.5 Q116.0,215.5 116.0,216.4 V218.0 Q116.0,220.5 110.0,220.5 Q104.0,220.5 104.0,218.0 Z" fill="#8e8e8e" opacity="0.35" filter="url(#bm)"/>
<path d="M153.4,208.1 Q153.4,207.2 154.9,207.2 H164.9 Q166.4,207.2 166.4,208.1 V208.9 Q166.4,210.6 159.9,210.6 Q153.4,210.6 153.4,208.9 Z" fill="#2e2e2e" opacity="0.95" filter="url(#bs)"/>
<path d="M170.0,208.5 Q170.0,207.6 171.5,207.6 H183.2 Q184.7,207.6 184.7,208.5 V211.1 Q184.7,213.6 177.3,213.6 Q170.0,213.6 170.0,211.1 Z" fill="#141414" opacity="1.00" filter="url(#bs)"/>
<path d="M188.0,209.1 Q188.0,208.2 189.5,208.2 H199.9 Q201.4,208.2 201.4,209.1 V210.2 Q201.4,212.3 194.7,212.3 Q188.0,212.3 188.0,210.2 Z" fill="#222" opacity="0.97" filter="url(#bs)"/>
<path d="M205.4,208.2 Q205.4,207.3 206.9,207.3 H217.2 Q218.7,207.3 218.7,208.2 V208.1 Q218.7,208.9 212.1,208.9 Q205.4,208.9 205.4,208.1 Z" fill="#7c7c7c" opacity="0.60" filter="url(#bs)"/>
<path d="M155.0,243.2 Q155.0,242.3 156.5,242.3 H165.5 Q167.0,242.3 167.0,243.2 V243.0 Q167.0,243.7 161.0,243.7 Q155.0,243.7 155.0,243.0 Z" fill="#888" opacity="0.35" filter="url(#bm)"/>
<path d="M172.8,243.2 Q172.8,242.3 174.3,242.3 H183.0 Q184.5,242.3 184.5,243.2 V243.0 Q184.5,243.7 178.7,243.7 Q172.8,243.7 172.8,243.0 Z" fill="#888" opacity="0.35" filter="url(#bm)"/>
<text x="30.9" y="165.6" font-size="8" text-anchor="middle">KDa</text>
<text transform="translate(56.7,164) scale(0.88,1)" font-size="7.2" text-anchor="middle">M</text>
<text transform="translate(74.2,164) scale(0.88,1)" font-size="7.2" text-anchor="middle">A4</text>
<text transform="translate(91.9,164) scale(0.88,1)" font-size="7.2" text-anchor="middle">A5</text>
<text transform="translate(109.2,164) scale(0.88,1)" font-size="7.2" text-anchor="middle">A6</text>
<text transform="translate(126.5,164) scale(0.88,1)" font-size="7.2" text-anchor="middle">A7</text>
<text transform="translate(143.8,164) scale(0.88,1)" font-size="7.2" text-anchor="middle">A8</text>
<text transform="translate(161.0,164) scale(0.88,1)" font-size="7.2" text-anchor="middle">A9</text>
<text transform="translate(178.5,164) scale(0.88,1)" font-size="7.2" text-anchor="middle">A10</text>
<text transform="translate(196.0,164) scale(0.88,1)" font-size="7.2" text-anchor="middle">A11</text>
<text transform="translate(213.5,164) scale(0.88,1)" font-size="7.2" text-anchor="middle">A12</text>
<text x="35.2" y="173.9" font-size="8.2" text-anchor="end">260</text><path d="M35.9,171.2 H41.9" fill="none" stroke="#333" stroke-width="0.9"/><path d="M39.4,168.6 Q41.1,170.4 42.4,171.2 Q41.1,172.0 39.4,173.8" fill="none" stroke="#000" stroke-width="1.1" stroke-linecap="round"/>
<text x="35.2" y="186.8" font-size="8.2" text-anchor="end">140</text><path d="M35.9,184.1 H41.9" fill="none" stroke="#333" stroke-width="0.9"/><path d="M39.4,181.5 Q41.1,183.3 42.4,184.1 Q41.1,184.9 39.4,186.7" fill="none" stroke="#000" stroke-width="1.1" stroke-linecap="round"/>
<text x="35.7" y="206.4" font-size="8.2" text-anchor="end">100</text><path d="M35.9,203.7 H41.9" fill="none" stroke="#333" stroke-width="0.9"/><path d="M39.4,201.1 Q41.1,202.9 42.4,203.7 Q41.1,204.5 39.4,206.3" fill="none" stroke="#000" stroke-width="1.1" stroke-linecap="round"/>
<text x="35.7" y="219.7" font-size="8.2" text-anchor="end">70</text><path d="M35.9,217.0 H41.9" fill="none" stroke="#333" stroke-width="0.9"/><path d="M39.4,214.4 Q41.1,216.2 42.4,217.0 Q41.1,217.8 39.4,219.6" fill="none" stroke="#000" stroke-width="1.1" stroke-linecap="round"/>
<text x="35.7" y="238.0" font-size="8.2" text-anchor="end">50</text><path d="M35.9,235.3 H41.9" fill="none" stroke="#333" stroke-width="0.9"/><path d="M39.4,232.7 Q41.1,234.5 42.4,235.3 Q41.1,236.1 39.4,237.9" fill="none" stroke="#000" stroke-width="1.1" stroke-linecap="round"/>
<text x="35.7" y="256.6" font-size="8.2" text-anchor="end">40</text><path d="M35.9,253.9 H41.9" fill="none" stroke="#333" stroke-width="0.9"/><path d="M39.4,251.3 Q41.1,253.1 42.4,253.9 Q41.1,254.7 39.4,256.5" fill="none" stroke="#000" stroke-width="1.1" stroke-linecap="round"/>
<line x1="226.8" y1="197.9" x2="234.4" y2="197.9" stroke="#000" stroke-width="1.9"/><path d="M223.8,197.9 L228.0,195.2 L228.0,200.6 Z" fill="#000"/>
<rect x="284.2" y="167" width="180.5" height="94.5" fill="url(#gB)"/>
<line x1="284.2" y1="261" x2="464.7" y2="261" stroke="#9a9a9a" stroke-width="1"/>
<path d="M289.9,174.0 Q289.9,173.3 291.0,173.3 H296.3 Q297.4,173.3 297.4,174.0 V174.2 Q297.4,175.1 293.6,175.1 Q289.9,175.1 289.9,174.2 Z" fill="#7a7a7a" opacity="0.60" filter="url(#bs)"/>
<path d="M289.9,197.4 Q289.9,196.7 291.0,196.7 H296.3 Q297.4,196.7 297.4,197.4 V197.6 Q297.4,198.5 293.6,198.5 Q289.9,198.5 289.9,197.6 Z" fill="#7a7a7a" opacity="0.60" filter="url(#bs)"/>
<path d="M289.9,215.6 Q289.9,214.9 291.0,214.9 H296.3 Q297.4,214.9 297.4,215.6 V215.8 Q297.4,216.7 293.6,216.7 Q289.9,216.7 289.9,215.8 Z" fill="#7a7a7a" opacity="0.60" filter="url(#bs)"/>
<path d="M289.9,226.7 Q289.9,226.0 291.0,226.0 H296.3 Q297.4,226.0 297.4,226.7 V226.9 Q297.4,227.8 293.6,227.8 Q289.9,227.8 289.9,226.9 Z" fill="#7a7a7a" opacity="0.60" filter="url(#bs)"/>
<path d="M289.9,243.4 Q289.9,242.7 291.0,242.7 H296.3 Q297.4,242.7 297.4,243.4 V243.6 Q297.4,244.5 293.6,244.5 Q289.9,244.5 289.9,243.6 Z" fill="#7a7a7a" opacity="0.60" filter="url(#bs)"/>
<path d="M289.9,256.2 Q289.9,255.5 291.0,255.5 H296.3 Q297.4,255.5 297.4,256.2 V256.4 Q297.4,257.3 293.6,257.3 Q289.9,257.3 289.9,256.4 Z" fill="#7a7a7a" opacity="0.60" filter="url(#bs)"/>
<path d="M328.0,211.7 Q328.0,210.8 329.5,210.8 H338.5 Q340.0,210.8 340.0,211.7 V211.4 Q340.0,212.0 334.0,212.0 Q328.0,212.0 328.0,211.4 Z" fill="#999" opacity="0.40" filter="url(#bs)"/>
<path d="M342.7,211.8 Q342.7,211.0 344.1,211.0 H350.3 Q351.7,211.0 351.7,211.8 V211.8 Q351.7,212.6 347.2,212.6 Q342.7,212.6 342.7,211.8 Z" fill="#8a8a8a" opacity="0.55" filter="url(#bs)"/>
<path d="M355.9,212.0 Q355.9,211.2 357.3,211.2 H363.7 Q365.1,211.2 365.1,212.0 V212.6 Q365.1,214.0 360.5,214.0 Q355.9,214.0 355.9,212.6 Z" fill="#4a4a4a" opacity="0.90" filter="url(#bs)"/>
<path d="M367.8,213.1 Q367.8,212.2 369.3,212.2 H377.9 Q379.4,212.2 379.4,213.1 V214.5 Q379.4,216.8 373.6,216.8 Q367.8,216.8 367.8,214.5 Z" fill="#1c1c1c" opacity="1.00" filter="url(#bs)"/>
<path d="M381.1,213.4 Q381.1,212.5 382.6,212.5 H390.6 Q392.1,212.5 392.1,213.4 V214.8 Q392.1,217.1 386.6,217.1 Q381.1,217.1 381.1,214.8 Z" fill="#202020" opacity="1.00" filter="url(#bs)"/>
<path d="M393.7,212.9 Q393.7,212.0 395.2,212.0 H404.7 Q406.2,212.0 406.2,212.9 V218.1 Q406.2,220.6 399.9,220.6 Q393.7,220.6 393.7,218.1 Z" fill="#121212" opacity="1.00" filter="url(#bs)"/>
<path d="M407.2,213.2 Q407.2,212.3 408.7,212.3 H417.6 Q419.1,212.3 419.1,213.2 V217.3 Q419.1,219.8 413.1,219.8 Q407.2,219.8 407.2,217.3 Z" fill="#151515" opacity="1.00" filter="url(#bs)"/>
<path d="M421.3,213.5 Q421.3,212.6 422.7,212.6 H429.4 Q430.8,212.6 430.8,213.5 V213.8 Q430.8,215.0 426.1,215.0 Q421.3,215.0 421.3,213.8 Z" fill="#666" opacity="0.85" filter="url(#bs)"/>
<path d="M421.5,256.2 Q421.5,255.4 422.8,255.4 H429.0 Q430.3,255.4 430.3,256.2 V256.3 Q430.3,257.2 425.9,257.2 Q421.5,257.2 421.5,256.3 Z" fill="#8c8c8c" opacity="0.55" filter="url(#bs)"/>
<path d="M434.7,256.6 Q434.7,255.8 436.0,255.8 H442.2 Q443.5,255.8 443.5,256.6 V256.5 Q443.5,257.2 439.1,257.2 Q434.7,257.2 434.7,256.5 Z" fill="#9c9c9c" opacity="0.40" filter="url(#bs)"/>
<circle cx="359.5" cy="200.5" r="0.6" fill="#444"/>
<circle cx="396.7" cy="236.8" r="0.6" fill="#444"/>
<circle cx="377.6" cy="178.3" r="0.6" fill="#444"/>
<circle cx="376.0" cy="177.0" r="0.6" fill="#444"/>
<text x="274.2" y="167.5" font-size="7.6" text-anchor="middle">KDa</text>
<text transform="translate(293.6,166.2) scale(0.86,1)" font-size="7.2" text-anchor="middle">M</text>
<text transform="translate(308.8,166.2) scale(0.86,1)" font-size="7.2" text-anchor="middle">A1</text>
<text transform="translate(321.6,166.2) scale(0.86,1)" font-size="7.2" text-anchor="middle">A2</text>
<text transform="translate(334.9,166.2) scale(0.86,1)" font-size="7.2" text-anchor="middle">A3</text>
<text transform="translate(348.8,166.2) scale(0.86,1)" font-size="7.2" text-anchor="middle">A4</text>
<text transform="translate(361.7,166.2) scale(0.86,1)" font-size="7.2" text-anchor="middle">A5</text>
<text transform="translate(373.6,166.2) scale(0.86,1)" font-size="7.2" text-anchor="middle">A6</text>
<text transform="translate(386.2,166.2) scale(0.86,1)" font-size="7.2" text-anchor="middle">A7</text>
<text transform="translate(399.6,166.2) scale(0.86,1)" font-size="7.2" text-anchor="middle">A8</text>
<text transform="translate(415.4,166.2) scale(0.86,1)" font-size="7.2" text-anchor="middle">A9</text>
<text transform="translate(428.8,166.2) scale(0.86,1)" font-size="7.2" text-anchor="middle">A10</text>
<text x="277.6" y="178.2" font-size="8.0" text-anchor="end">260</text><path d="M277.8,175.6 H283.8" fill="none" stroke="#333" stroke-width="0.9"/><path d="M281.3,173.0 Q283.0,174.8 284.3,175.6 Q283.0,176.4 281.3,178.2" fill="none" stroke="#000" stroke-width="1.1" stroke-linecap="round"/>
<text x="277.6" y="200.0" font-size="8.0" text-anchor="end">140</text><path d="M277.8,197.4 H283.8" fill="none" stroke="#333" stroke-width="0.9"/><path d="M281.3,194.8 Q283.0,196.6 284.3,197.4 Q283.0,198.2 281.3,200.0" fill="none" stroke="#000" stroke-width="1.1" stroke-linecap="round"/>
<text x="277.6" y="218.0" font-size="8.0" text-anchor="end">100</text><path d="M277.8,215.4 H283.8" fill="none" stroke="#333" stroke-width="0.9"/><path d="M281.3,212.8 Q283.0,214.6 284.3,215.4 Q283.0,216.2 281.3,218.0" fill="none" stroke="#000" stroke-width="1.1" stroke-linecap="round"/>
<text x="277.6" y="230.3" font-size="8.0" text-anchor="end">70</text><path d="M277.8,227.7 H283.8" fill="none" stroke="#333" stroke-width="0.9"/><path d="M281.3,225.1 Q283.0,226.9 284.3,227.7 Q283.0,228.5 281.3,230.3" fill="none" stroke="#000" stroke-width="1.1" stroke-linecap="round"/>
<text x="277.6" y="247.1" font-size="8.0" text-anchor="end">50</text><path d="M277.8,244.5 H283.8" fill="none" stroke="#333" stroke-width="0.9"/><path d="M281.3,241.9 Q283.0,243.7 284.3,244.5 Q283.0,245.3 281.3,247.1" fill="none" stroke="#000" stroke-width="1.1" stroke-linecap="round"/>
<text x="277.6" y="258.6" font-size="8.0" text-anchor="end">40</text><path d="M277.8,256.0 H283.8" fill="none" stroke="#333" stroke-width="0.9"/><path d="M281.3,253.4 Q283.0,255.2 284.3,256.0 Q283.0,256.8 281.3,258.6" fill="none" stroke="#000" stroke-width="1.1" stroke-linecap="round"/>
<line x1="467.0" y1="220.0" x2="475.3" y2="220.0" stroke="#000" stroke-width="1.9"/><path d="M464.0,220.0 L468.2,217.3 L468.2,222.7 Z" fill="#000"/>
<path d="M536.5,136.1 V5.5 H638.3 V136.1" fill="none" stroke="#7a7a7a" stroke-width="0.9"/>
<path d="M536.5,7.5 V136.1 H638.3" fill="none" stroke="#555" stroke-width="0.9"/>
<line x1="532.7" y1="17.4" x2="536.5" y2="17.4" stroke="#444" stroke-width="0.8"/>
<line x1="532.7" y1="30.0" x2="536.5" y2="30.0" stroke="#444" stroke-width="0.8"/>
<line x1="532.7" y1="42.5" x2="536.5" y2="42.5" stroke="#444" stroke-width="0.8"/>
<line x1="532.7" y1="55.3" x2="536.5" y2="55.3" stroke="#444" stroke-width="0.8"/>
<line x1="532.7" y1="67.6" x2="536.5" y2="67.6" stroke="#444" stroke-width="0.8"/>
<line x1="532.7" y1="80.3" x2="536.5" y2="80.3" stroke="#444" stroke-width="0.8"/>
<line x1="532.7" y1="93.4" x2="536.5" y2="93.4" stroke="#444" stroke-width="0.8"/>
<line x1="532.7" y1="106.3" x2="536.5" y2="106.3" stroke="#444" stroke-width="0.8"/>
<line x1="532.7" y1="119.4" x2="536.5" y2="119.4" stroke="#444" stroke-width="0.8"/>
<line x1="532.7" y1="132.5" x2="536.5" y2="132.5" stroke="#444" stroke-width="0.8"/>
<text x="519.2" y="22.6" font-size="8">110</text>
<text x="519.2" y="32.8" font-size="8">100</text>
<text x="519.2" y="42.6" font-size="8">80</text>
<text x="519.2" y="53.2" font-size="8">70</text>
<text x="519.2" y="63.4" font-size="8">60</text>
<text x="519.2" y="73.3" font-size="8">50</text>
<text x="519.2" y="84.2" font-size="8">40</text>
<text x="519.2" y="94.0" font-size="8">30</text>
<text x="519.2" y="104.4" font-size="8">20</text>
<text x="519.2" y="114.2" font-size="8">10</text>
<text x="519.2" y="124.9" font-size="8">0</text>
<text x="519.2" y="134.5" font-size="8">-5</text>
<line x1="538.4" y1="136.1" x2="538.4" y2="139.7" stroke="#333" stroke-width="0.9"/>
<text x="539.3" y="149.0" font-size="9.4" text-anchor="middle">30</text>
<line x1="554.2" y1="136.1" x2="554.2" y2="139.7" stroke="#333" stroke-width="0.9"/>
<text x="555.4" y="149.0" font-size="9.4" text-anchor="middle">40</text>
<line x1="570.1" y1="136.1" x2="570.1" y2="139.7" stroke="#333" stroke-width="0.9"/>
<text x="571.5" y="149.0" font-size="9.4" text-anchor="middle">50</text>
<line x1="585.9" y1="136.1" x2="585.9" y2="139.7" stroke="#333" stroke-width="0.9"/>
<text x="587.6" y="149.0" font-size="9.4" text-anchor="middle">60</text>
<line x1="601.7" y1="136.1" x2="601.7" y2="139.7" stroke="#333" stroke-width="0.9"/>
<text x="603.7" y="149.0" font-size="9.4" text-anchor="middle">70</text>
<line x1="617.5" y1="136.1" x2="617.5" y2="139.7" stroke="#333" stroke-width="0.9"/>
<text x="619.8" y="149.0" font-size="9.4" text-anchor="middle">80</text>
<line x1="633.4" y1="136.1" x2="633.4" y2="139.7" stroke="#333" stroke-width="0.9"/>
<text x="635.8" y="149.0" font-size="9.4" text-anchor="middle">90</text>
<text x="588.5" y="159.7" font-size="9.2" text-anchor="middle">Volume (mL)</text>
<text transform="translate(513.1,63.9) rotate(-90)" font-size="9.3" text-anchor="middle">mAU (A<tspan font-size="5.6" dy="2.2">280</tspan><tspan dy="-2.2"> nm)</tspan></text>
<text x="539.0" y="16.7" font-size="10.3">CTRL.</text>
<text x="636.2" y="14.6" font-size="8.1" text-anchor="end">TOP1-M</text>
<line x1="541.0" y1="129.9" x2="541.0" y2="135.2" stroke="#f2a0a0" stroke-width="0.5" stroke-dasharray="0.8,0.8"/>
<line x1="547.8" y1="129.9" x2="547.8" y2="135.2" stroke="#f2a0a0" stroke-width="0.5" stroke-dasharray="0.8,0.8"/>
<line x1="554.6" y1="129.9" x2="554.6" y2="135.2" stroke="#f2a0a0" stroke-width="0.5" stroke-dasharray="0.8,0.8"/>
<line x1="561.4" y1="129.9" x2="561.4" y2="135.2" stroke="#f2a0a0" stroke-width="0.5" stroke-dasharray="0.8,0.8"/>
<line x1="568.1" y1="129.9" x2="568.1" y2="135.2" stroke="#f2a0a0" stroke-width="0.5" stroke-dasharray="0.8,0.8"/>
<line x1="574.9" y1="129.9" x2="574.9" y2="135.2" stroke="#f2a0a0" stroke-width="0.5" stroke-dasharray="0.8,0.8"/>
<line x1="581.7" y1="129.9" x2="581.7" y2="135.2" stroke="#f2a0a0" stroke-width="0.5" stroke-dasharray="0.8,0.8"/>
<line x1="588.5" y1="129.9" x2="588.5" y2="135.2" stroke="#f2a0a0" stroke-width="0.5" stroke-dasharray="0.8,0.8"/>
<line x1="595.3" y1="129.9" x2="595.3" y2="135.2" stroke="#f2a0a0" stroke-width="0.5" stroke-dasharray="0.8,0.8"/>
<line x1="602.1" y1="129.9" x2="602.1" y2="135.2" stroke="#f2a0a0" stroke-width="0.5" stroke-dasharray="0.8,0.8"/>
<line x1="608.9" y1="129.9" x2="608.9" y2="135.2" stroke="#f2a0a0" stroke-width="0.5" stroke-dasharray="0.8,0.8"/>
<line x1="615.6" y1="129.9" x2="615.6" y2="135.2" stroke="#f2a0a0" stroke-width="0.5" stroke-dasharray="0.8,0.8"/>
<line x1="622.4" y1="129.9" x2="622.4" y2="135.2" stroke="#f2a0a0" stroke-width="0.5" stroke-dasharray="0.8,0.8"/>
<line x1="629.2" y1="129.9" x2="629.2" y2="135.2" stroke="#f2a0a0" stroke-width="0.5" stroke-dasharray="0.8,0.8"/>
<line x1="636.0" y1="129.9" x2="636.0" y2="135.2" stroke="#f2a0a0" stroke-width="0.5" stroke-dasharray="0.8,0.8"/>
<text class="fr" x="544.4" y="134.6" text-anchor="middle" font-size="2.8">A1</text>
<text class="fr" x="551.2" y="134.6" text-anchor="middle" font-size="2.8">A2</text>
<text class="fr" x="558.0" y="134.6" text-anchor="middle" font-size="2.8">A3</text>
<text class="fr" x="564.8" y="134.6" text-anchor="middle" font-size="2.8">A4</text>
<text class="fr" x="571.5" y="134.6" text-anchor="middle" font-size="2.8">A5</text>
<text class="fr" x="578.3" y="134.6" text-anchor="middle" font-size="2.8">A6</text>
<text class="fr" x="585.1" y="134.6" text-anchor="middle" font-size="2.8">A7</text>
<text class="fr" x="591.9" y="134.6" text-anchor="middle" font-size="2.8">A8</text>
<text class="fr" x="598.7" y="134.6" text-anchor="middle" font-size="2.8">A9</text>
<text class="fr" x="605.5" y="134.6" text-anchor="middle" font-size="2.8">A10</text>
<text class="fr" x="612.2" y="134.6" text-anchor="middle" font-size="2.8">A11</text>
<text class="fr" x="619.0" y="134.6" text-anchor="middle" font-size="2.8">A12</text>
<text class="fr" x="625.8" y="134.6" text-anchor="middle" font-size="2.8">A13</text>
<text class="fr" x="632.6" y="134.6" text-anchor="middle" font-size="2.8">A14</text>
<polyline points="536.50,107.40 536.67,107.89 536.89,108.60 537.16,109.43 537.46,110.27 537.78,111.03 538.10,111.60 538.42,112.05 538.75,112.47 539.10,112.81 539.47,113.00 539.87,112.99 540.30,112.70 540.78,112.12 541.29,111.28 541.84,110.24 542.40,109.03 542.96,107.70 543.50,106.30 544.05,104.69 544.63,102.81 545.21,100.81 545.76,98.84 546.27,97.06 546.70,95.60 547.05,94.41 547.32,93.37 547.54,92.50 547.75,91.86 547.96,91.48 548.20,91.40 548.47,91.68 548.74,92.30 549.01,93.19 549.30,94.26 549.59,95.46 549.90,96.70 550.23,98.11 550.59,99.78 550.95,101.56 551.31,103.33 551.67,104.96 552.00,106.30 552.30,107.46 552.56,108.56 552.82,109.52 553.08,110.24 553.37,110.63 553.70,110.60 554.09,109.99 554.52,108.83 554.98,107.34 555.44,105.75 555.89,104.26 556.30,103.10 556.68,102.19 557.03,101.34 557.37,100.61 557.71,100.02 558.05,99.64 558.40,99.50 558.76,99.69 559.13,100.20 559.50,100.90 559.87,101.69 560.24,102.46 560.60,103.10 560.94,103.67 561.27,104.26 561.59,104.83 561.92,105.33 562.29,105.70 562.70,105.90 563.16,105.89 563.64,105.72 564.16,105.43 564.71,105.04 565.29,104.62 565.90,104.20 566.57,103.73 567.29,103.18 568.05,102.59 568.81,102.00 569.53,101.45 570.20,101.00 570.80,100.62 571.35,100.26 571.87,99.96 572.37,99.71 572.88,99.56 573.40,99.50 573.93,99.55 574.47,99.69 575.00,99.92 575.53,100.22 576.07,100.58 576.60,101.00 577.13,101.54 577.67,102.22 578.20,102.97 578.73,103.70 579.27,104.34 579.80,104.80 580.33,105.08 580.87,105.24 581.40,105.30 581.93,105.30 582.47,105.25 583.00,105.20 583.53,105.08 584.07,104.86 584.60,104.59 585.13,104.36 585.67,104.20 586.20,104.20 586.75,104.37 587.31,104.67 587.87,105.06 588.41,105.49 588.93,105.91 589.40,106.30 589.81,106.71 590.18,107.20 590.51,107.68 590.83,108.09 591.16,108.36 591.50,108.40 591.85,108.29 592.19,108.11 592.54,107.78 592.90,107.23 593.28,106.39 593.70,105.20 594.18,103.59 594.72,101.60 595.28,99.32 595.84,96.85 596.35,94.28 596.80,91.70 597.16,89.03 597.47,86.17 597.74,83.22 597.99,80.25 598.23,77.35 598.50,74.60 598.78,72.15 599.07,69.97 599.36,67.85 599.64,65.61 599.92,63.06 600.20,60.00 600.47,56.22 600.74,51.84 601.00,47.14 601.26,42.43 601.53,37.98 601.80,34.10 602.08,30.72 602.38,27.61 602.68,24.76 602.97,22.20 603.25,19.94 603.50,18.00 603.72,16.37 603.91,15.06 604.09,14.04 604.26,13.32 604.42,12.87 604.60,12.70 604.79,12.88 604.97,13.45 605.16,14.30 605.35,15.33 605.53,16.43 605.70,17.50 605.86,18.53 606.00,19.60 606.14,20.74 606.28,21.99 606.43,23.40 606.60,25.00 606.79,26.74 606.99,28.59 607.21,30.59 607.43,32.80 607.66,35.25 607.90,38.00 608.14,41.12 608.40,44.58 608.66,48.29 608.93,52.16 609.21,56.09 609.50,60.00 609.81,64.01 610.15,68.23 610.49,72.51 610.84,76.72 611.18,80.73 611.50,84.40 611.79,87.72 612.06,90.78 612.32,93.64 612.59,96.34 612.88,98.95 613.20,101.50 613.56,104.05 613.95,106.56 614.36,108.96 614.77,111.20 615.19,113.20 615.60,114.90 615.98,116.25 616.35,117.28 616.72,118.08 617.10,118.72 617.52,119.27 618.00,119.80 618.54,120.31 619.14,120.73 619.77,121.06 620.42,121.30 621.07,121.45 621.70,121.50 622.32,121.45 622.94,121.30 623.56,121.06 624.17,120.73 624.79,120.31 625.40,119.80 626.00,119.17 626.60,118.40 627.20,117.55 627.80,116.65 628.40,115.75 629.00,114.90 629.63,114.01 630.27,113.02 630.93,112.04 631.56,111.14 632.16,110.43 632.70,110.00 633.18,109.88 633.60,110.00 633.98,110.31 634.35,110.73 634.72,111.22 635.10,111.70 635.53,112.26 635.99,112.95 636.45,113.71 636.88,114.44 637.24,115.06 637.50,115.50" fill="none" stroke="#9090e0" stroke-width="0.75" stroke-linejoin="round"/>
<polyline points="537.78,111.03 538.10,111.60 538.42,112.05 538.75,112.47 539.10,112.81 539.47,113.00 539.87,112.99 540.30,112.70 540.78,112.12 541.29,111.28 541.84,110.24 542.40,109.03" fill="none" stroke="#3c3cc8" stroke-width="0.80" stroke-linejoin="round" stroke-linecap="round"/>
<polyline points="547.75,91.86 547.96,91.48 548.20,91.40 548.47,91.68" fill="none" stroke="#3c3cc8" stroke-width="0.80" stroke-linejoin="round" stroke-linecap="round"/>
<polyline points="553.08,110.24 553.37,110.63 553.70,110.60 554.09,109.99" fill="none" stroke="#3c3cc8" stroke-width="0.80" stroke-linejoin="round" stroke-linecap="round"/>
<polyline points="557.03,101.34 557.37,100.61 557.71,100.02 558.05,99.64 558.40,99.50 558.76,99.69 559.13,100.20 559.50,100.90 559.87,101.69 560.24,102.46 560.60,103.10 560.94,103.67 561.27,104.26 561.59,104.83 561.92,105.33 562.29,105.70 562.70,105.90 563.16,105.89 563.64,105.72 564.16,105.43 564.71,105.04 565.29,104.62 565.90,104.20 566.57,103.73 567.29,103.18 568.05,102.59 568.81,102.00 569.53,101.45 570.20,101.00 570.80,100.62 571.35,100.26 571.87,99.96 572.37,99.71 572.88,99.56 573.40,99.50 573.93,99.55 574.47,99.69 575.00,99.92 575.53,100.22 576.07,100.58 576.60,101.00 577.13,101.54 577.67,102.22 578.20,102.97 578.73,103.70 579.27,104.34 579.80,104.80 580.33,105.08 580.87,105.24 581.40,105.30 581.93,105.30 582.47,105.25 583.00,105.20 583.53,105.08 584.07,104.86 584.60,104.59 585.13,104.36 585.67,104.20 586.20,104.20 586.75,104.37 587.31,104.67 587.87,105.06 588.41,105.49 588.93,105.91 589.40,106.30 589.81,106.71 590.18,107.20 590.51,107.68 590.83,108.09 591.16,108.36 591.50,108.40 591.85,108.29 592.19,108.11 592.54,107.78 592.90,107.23 593.28,106.39" fill="none" stroke="#3c3cc8" stroke-width="0.80" stroke-linejoin="round" stroke-linecap="round"/>
<polyline points="604.42,12.87 604.60,12.70 604.79,12.88" fill="none" stroke="#3c3cc8" stroke-width="0.80" stroke-linejoin="round" stroke-linecap="round"/>
<polyline points="616.35,117.28 616.72,118.08 617.10,118.72 617.52,119.27 618.00,119.80 618.54,120.31 619.14,120.73 619.77,121.06 620.42,121.30 621.07,121.45 621.70,121.50 622.32,121.45 622.94,121.30 623.56,121.06 624.17,120.73 624.79,120.31 625.40,119.80 626.00,119.17 626.60,118.40 627.20,117.55 627.80,116.65 628.40,115.75 629.00,114.90 629.63,114.01 630.27,113.02 630.93,112.04 631.56,111.14 632.16,110.43 632.70,110.00 633.18,109.88 633.60,110.00 633.98,110.31 634.35,110.73 634.72,111.22 635.10,111.70 635.53,112.26 635.99,112.95 636.45,113.71 636.88,114.44 637.24,115.06 637.50,115.50" fill="none" stroke="#3c3cc8" stroke-width="0.80" stroke-linejoin="round" stroke-linecap="round"/>
<polyline points="536.50,107.40 536.67,107.89 536.89,108.60 537.16,109.43 537.46,110.27 537.78,111.03 538.10,111.60 538.42,112.05 538.75,112.47 539.10,112.81 539.47,113.00 539.87,112.99 540.30,112.70 540.78,112.12 541.29,111.28 541.84,110.24 542.40,109.03 542.96,107.70 543.50,106.30 544.05,104.69 544.63,102.81 545.21,100.81 545.76,98.84 546.27,97.06 546.70,95.60 547.05,94.41 547.32,93.37 547.54,92.50 547.75,91.86 547.96,91.48 548.20,91.40 548.47,91.68 548.74,92.30 549.01,93.19 549.30,94.26 549.59,95.46 549.90,96.70 550.23,98.11 550.59,99.78 550.95,101.56 551.31,103.33 551.67,104.96 552.00,106.30 552.30,107.46 552.56,108.56 552.82,109.52 553.08,110.24 553.37,110.63 553.70,110.60 554.09,109.99 554.52,108.83 554.98,107.34 555.44,105.75 555.89,104.26 556.30,103.10 556.68,102.19 557.03,101.34 557.37,100.61 557.71,100.02 558.05,99.64 558.40,99.50 558.76,99.69 559.13,100.20 559.50,100.90 559.87,101.69 560.24,102.46 560.60,103.10 560.94,103.67 561.27,104.26 561.59,104.83 561.92,105.33 562.29,105.70 562.70,105.90 563.16,105.89 563.64,105.72 564.16,105.43 564.71,105.04 565.29,104.62 565.90,104.20 566.57,103.73 567.29,103.18 568.05,102.59 568.81,102.00 569.53,101.45 570.20,101.00 570.80,100.62 571.35,100.26 571.87,99.96 572.37,99.71 572.88,99.56 573.40,99.50 573.93,99.55 574.47,99.69 575.00,99.92 575.53,100.22 576.07,100.58 576.60,101.00 577.13,101.54 577.67,102.22 578.20,102.97 578.73,103.70 579.27,104.34 579.80,104.80 580.33,105.08 580.87,105.24 581.40,105.30 581.93,105.30 582.47,105.25 583.00,105.20 583.53,105.08 584.07,104.86 584.60,104.59 585.13,104.36 585.67,104.20 586.20,104.20 586.75,104.37 587.31,104.67 587.87,105.06 588.41,105.49 588.93,105.91 589.40,106.30 589.81,106.71 590.18,107.20 590.51,107.68 590.83,108.09 591.16,108.36 591.50,108.40 591.89,108.14 592.31,107.61 592.73,106.93 593.13,106.23 593.46,105.61 593.70,105.20" fill="none" stroke="none" stroke-width="0.01" stroke-linejoin="round"/>
<polyline points="536.50,107.40 536.67,107.89 536.89,108.60 537.16,109.43 537.46,110.27 537.78,111.03 538.10,111.60 538.42,112.05 538.75,112.47 539.10,112.81 539.47,113.00 539.87,112.99 540.30,112.70 540.78,112.12 541.29,111.28 541.84,110.24 542.40,109.03 542.96,107.70 543.50,106.30 544.05,104.69 544.63,102.81 545.21,100.81 545.76,98.84 546.27,97.06 546.70,95.60 547.05,94.41 547.32,93.37 547.54,92.50 547.75,91.86 547.96,91.48 548.20,91.40 548.47,91.68 548.74,92.30 549.01,93.19 549.30,94.26 549.59,95.46 549.90,96.70 550.23,98.11 550.59,99.78 550.95,101.56 551.31,103.33 551.67,104.96 552.00,106.30 552.30,107.46 552.56,108.56 552.82,109.52 553.08,110.24 553.37,110.63 553.70,110.60 554.09,109.99 554.52,108.83 554.98,107.34 555.44,105.75 555.89,104.26 556.30,103.10 556.68,102.19 557.03,101.34 557.37,100.61 557.71,100.02 558.05,99.64 558.40,99.50 558.76,99.69 559.13,100.20 559.50,100.90 559.87,101.69 560.24,102.46 560.60,103.10 560.94,103.67 561.27,104.26 561.59,104.83 561.92,105.33 562.29,105.70 562.70,105.90 563.16,105.89 563.64,105.72 564.16,105.43 564.71,105.04 565.29,104.62 565.90,104.20 566.57,103.73 567.29,103.18 568.05,102.59 568.81,102.00 569.53,101.45 570.20,101.00 570.80,100.62 571.35,100.26 571.87,99.96 572.37,99.71 572.88,99.56 573.40,99.50 573.93,99.55 574.47,99.69 575.00,99.92 575.53,100.22 576.07,100.58 576.60,101.00 577.13,101.54 577.67,102.22 578.20,102.97 578.73,103.70 579.27,104.34 579.80,104.80 580.33,105.08 580.87,105.24 581.40,105.30 581.93,105.30 582.47,105.25 583.00,105.20 583.53,105.08 584.07,104.86 584.60,104.59 585.13,104.36 585.67,104.20 586.20,104.20 586.75,104.37 587.31,104.67 587.87,105.06 588.41,105.49 588.93,105.91 589.40,106.30 589.81,106.71 590.18,107.20 590.51,107.68 590.83,108.09 591.16,108.36 591.50,108.40 591.89,108.14 592.31,107.61 592.73,106.93 593.13,106.23 593.46,105.61 593.70,105.20" fill="none" stroke="#2a2ac8" stroke-width="1.30" stroke-linejoin="round" stroke-linecap="round"/>
<polyline points="615.60,114.90 615.85,115.47 616.17,116.29 616.57,117.24 617.01,118.22 617.50,119.11 618.00,119.80 618.54,120.31 619.14,120.73 619.77,121.06 620.42,121.30 621.07,121.45 621.70,121.50 622.32,121.45 622.94,121.30 623.56,121.06 624.17,120.73 624.79,120.31 625.40,119.80 626.00,119.17 626.60,118.40 627.20,117.55 627.80,116.65 628.40,115.75 629.00,114.90 629.63,114.01 630.27,113.02 630.93,112.04 631.56,111.14 632.16,110.43 632.70,110.00 633.18,109.88 633.60,110.00 633.98,110.31 634.35,110.73 634.72,111.22 635.10,111.70 635.53,112.26 635.99,112.95 636.45,113.71 636.88,114.44 637.24,115.06 637.50,115.50" fill="none" stroke="none" stroke-width="0.01" stroke-linejoin="round"/>
<polyline points="615.60,114.90 615.85,115.47 616.17,116.29 616.57,117.24 617.01,118.22 617.50,119.11 618.00,119.80 618.54,120.31 619.14,120.73 619.77,121.06 620.42,121.30 621.07,121.45 621.70,121.50 622.32,121.45 622.94,121.30 623.56,121.06 624.17,120.73 624.79,120.31 625.40,119.80 626.00,119.17 626.60,118.40 627.20,117.55 627.80,116.65 628.40,115.75 629.00,114.90 629.63,114.01 630.27,113.02 630.93,112.04 631.56,111.14 632.16,110.43 632.70,110.00 633.18,109.88 633.60,110.00 633.98,110.31 634.35,110.73 634.72,111.22 635.10,111.70 635.53,112.26 635.99,112.95 636.45,113.71 636.88,114.44 637.24,115.06 637.50,115.50" fill="none" stroke="#2a2ac8" stroke-width="1.30" stroke-linejoin="round" stroke-linecap="round"/>
<text x="565.5" y="95.9" font-size="8.1">TOP1-D</text>
<path d="M678.4,136.1 V5.5 H780.4 V136.1" fill="none" stroke="#7a7a7a" stroke-width="0.9"/>
<path d="M678.4,7.5 V136.1 H780.4" fill="none" stroke="#555" stroke-width="0.9"/>
<line x1="674.6" y1="17.4" x2="678.4" y2="17.4" stroke="#444" stroke-width="0.8"/>
<line x1="674.6" y1="30.0" x2="678.4" y2="30.0" stroke="#444" stroke-width="0.8"/>
<line x1="674.6" y1="42.5" x2="678.4" y2="42.5" stroke="#444" stroke-width="0.8"/>
<line x1="674.6" y1="55.3" x2="678.4" y2="55.3" stroke="#444" stroke-width="0.8"/>
<line x1="674.6" y1="67.6" x2="678.4" y2="67.6" stroke="#444" stroke-width="0.8"/>
<line x1="674.6" y1="80.3" x2="678.4" y2="80.3" stroke="#444" stroke-width="0.8"/>
<line x1="674.6" y1="93.4" x2="678.4" y2="93.4" stroke="#444" stroke-width="0.8"/>
<line x1="674.6" y1="106.3" x2="678.4" y2="106.3" stroke="#444" stroke-width="0.8"/>
<line x1="674.6" y1="119.4" x2="678.4" y2="119.4" stroke="#444" stroke-width="0.8"/>
<line x1="674.6" y1="132.5" x2="678.4" y2="132.5" stroke="#444" stroke-width="0.8"/>
<text x="661.2" y="22.6" font-size="8">110</text>
<text x="661.2" y="32.8" font-size="8">100</text>
<text x="661.2" y="42.6" font-size="8">80</text>
<text x="661.2" y="53.2" font-size="8">70</text>
<text x="661.2" y="63.4" font-size="8">60</text>
<text x="661.2" y="73.3" font-size="8">50</text>
<text x="661.2" y="84.2" font-size="8">40</text>
<text x="661.2" y="94.0" font-size="8">30</text>
<text x="661.2" y="104.4" font-size="8">20</text>
<text x="661.2" y="114.2" font-size="8">10</text>
<text x="661.2" y="124.9" font-size="8">0</text>
<text x="661.2" y="134.5" font-size="8">-5</text>
<line x1="680.4" y1="136.1" x2="680.4" y2="139.7" stroke="#333" stroke-width="0.9"/>
<text x="681.7" y="148.8" font-size="9.4" text-anchor="middle">30</text>
<line x1="696.2" y1="136.1" x2="696.2" y2="139.7" stroke="#333" stroke-width="0.9"/>
<text x="697.7" y="148.8" font-size="9.4" text-anchor="middle">40</text>
<line x1="712.0" y1="136.1" x2="712.0" y2="139.7" stroke="#333" stroke-width="0.9"/>
<text x="713.7" y="148.8" font-size="9.4" text-anchor="middle">50</text>
<line x1="727.8" y1="136.1" x2="727.8" y2="139.7" stroke="#333" stroke-width="0.9"/>
<text x="729.7" y="148.8" font-size="9.4" text-anchor="middle">60</text>
<line x1="743.6" y1="136.1" x2="743.6" y2="139.7" stroke="#333" stroke-width="0.9"/>
<text x="745.7" y="148.8" font-size="9.4" text-anchor="middle">70</text>
<line x1="759.4" y1="136.1" x2="759.4" y2="139.7" stroke="#333" stroke-width="0.9"/>
<text x="761.7" y="148.8" font-size="9.4" text-anchor="middle">80</text>
<line x1="775.2" y1="136.1" x2="775.2" y2="139.7" stroke="#333" stroke-width="0.9"/>
<text x="777.7" y="148.8" font-size="9.4" text-anchor="middle">90</text>
<text x="730.5" y="159.6" font-size="9.2" text-anchor="middle">Volume (mL)</text>
<text transform="translate(656.5,63.9) rotate(-90)" font-size="9.3" text-anchor="middle">mAU (A<tspan font-size="5.6" dy="2.2">280</tspan><tspan dy="-2.2"> nm)</tspan></text>
<text x="681.5" y="16.7" font-size="10.3">DTT</text>
<text x="773.8" y="14.6" font-size="8.1" text-anchor="end">TOP1-M</text>
<line x1="681.0" y1="129.9" x2="681.0" y2="135.2" stroke="#f2a0a0" stroke-width="0.5" stroke-dasharray="0.8,0.8"/>
<line x1="687.9" y1="129.9" x2="687.9" y2="135.2" stroke="#f2a0a0" stroke-width="0.5" stroke-dasharray="0.8,0.8"/>
<line x1="694.9" y1="129.9" x2="694.9" y2="135.2" stroke="#f2a0a0" stroke-width="0.5" stroke-dasharray="0.8,0.8"/>
<line x1="701.8" y1="129.9" x2="701.8" y2="135.2" stroke="#f2a0a0" stroke-width="0.5" stroke-dasharray="0.8,0.8"/>
<line x1="708.7" y1="129.9" x2="708.7" y2="135.2" stroke="#f2a0a0" stroke-width="0.5" stroke-dasharray="0.8,0.8"/>
<line x1="715.6" y1="129.9" x2="715.6" y2="135.2" stroke="#f2a0a0" stroke-width="0.5" stroke-dasharray="0.8,0.8"/>
<line x1="722.6" y1="129.9" x2="722.6" y2="135.2" stroke="#f2a0a0" stroke-width="0.5" stroke-dasharray="0.8,0.8"/>
<line x1="729.5" y1="129.9" x2="729.5" y2="135.2" stroke="#f2a0a0" stroke-width="0.5" stroke-dasharray="0.8,0.8"/>
<line x1="736.4" y1="129.9" x2="736.4" y2="135.2" stroke="#f2a0a0" stroke-width="0.5" stroke-dasharray="0.8,0.8"/>
<line x1="743.4" y1="129.9" x2="743.4" y2="135.2" stroke="#f2a0a0" stroke-width="0.5" stroke-dasharray="0.8,0.8"/>
<line x1="750.3" y1="129.9" x2="750.3" y2="135.2" stroke="#f2a0a0" stroke-width="0.5" stroke-dasharray="0.8,0.8"/>
<line x1="757.2" y1="129.9" x2="757.2" y2="135.2" stroke="#f2a0a0" stroke-width="0.5" stroke-dasharray="0.8,0.8"/>
<line x1="764.1" y1="129.9" x2="764.1" y2="135.2" stroke="#f2a0a0" stroke-width="0.5" stroke-dasharray="0.8,0.8"/>
<line x1="771.1" y1="129.9" x2="771.1" y2="135.2" stroke="#f2a0a0" stroke-width="0.5" stroke-dasharray="0.8,0.8"/>
<line x1="778.0" y1="129.9" x2="778.0" y2="135.2" stroke="#f2a0a0" stroke-width="0.5" stroke-dasharray="0.8,0.8"/>
<text class="fr" x="684.5" y="134.6" text-anchor="middle" font-size="2.8">A1</text>
<text class="fr" x="691.4" y="134.6" text-anchor="middle" font-size="2.8">A2</text>
<text class="fr" x="698.3" y="134.6" text-anchor="middle" font-size="2.8">A3</text>
<text class="fr" x="705.2" y="134.6" text-anchor="middle" font-size="2.8">A4</text>
<text class="fr" x="712.2" y="134.6" text-anchor="middle" font-size="2.8">A5</text>
<text class="fr" x="719.1" y="134.6" text-anchor="middle" font-size="2.8">A6</text>
<text class="fr" x="726.0" y="134.6" text-anchor="middle" font-size="2.8">A7</text>
<text class="fr" x="733.0" y="134.6" text-anchor="middle" font-size="2.8">A8</text>
<text class="fr" x="739.9" y="134.6" text-anchor="middle" font-size="2.8">A9</text>
<text class="fr" x="746.8" y="134.6" text-anchor="middle" font-size="2.8">A10</text>
<text class="fr" x="753.8" y="134.6" text-anchor="middle" font-size="2.8">A11</text>
<text class="fr" x="760.7" y="134.6" text-anchor="middle" font-size="2.8">A12</text>
<text class="fr" x="767.6" y="134.6" text-anchor="middle" font-size="2.8">A13</text>
<text class="fr" x="774.5" y="134.6" text-anchor="middle" font-size="2.8">A14</text>
<polyline points="679.00,113.70 679.47,113.48 680.14,113.17 680.92,112.81 681.75,112.42 682.57,112.04 683.30,111.70 683.96,111.42 684.60,111.19 685.22,110.96 685.83,110.70 686.42,110.40 687.00,110.00 687.58,109.41 688.16,108.64 688.72,107.81 689.24,107.06 689.71,106.51 690.10,106.30 690.37,106.45 690.53,106.85 690.64,107.46 690.73,108.23 690.87,109.09 691.10,110.00 691.42,111.06 691.80,112.34 692.22,113.72 692.67,115.09 693.13,116.32 693.60,117.30 694.08,118.06 694.57,118.70 695.07,119.21 695.60,119.57 696.14,119.77 696.70,119.80 697.30,119.54 697.94,118.97 698.59,118.24 699.24,117.50 699.85,116.90 700.40,116.60 700.87,116.63 701.29,116.90 701.68,117.30 702.04,117.76 702.41,118.19 702.80,118.50 703.18,118.75 703.54,119.01 703.90,119.25 704.29,119.41 704.75,119.44 705.30,119.30 705.97,118.91 706.73,118.29 707.55,117.54 708.41,116.78 709.27,116.10 710.10,115.60 710.91,115.30 711.73,115.10 712.54,114.99 713.36,114.93 714.18,114.91 715.00,114.90 715.82,114.95 716.63,115.11 717.45,115.29 718.27,115.45 719.08,115.51 719.90,115.40 720.72,115.15 721.53,114.82 722.35,114.39 723.17,113.85 723.98,113.19 724.80,112.40 725.64,111.42 726.50,110.24 727.36,108.94 728.20,107.60 728.99,106.30 729.70,105.10 730.34,104.06 730.92,103.11 731.45,102.20 731.94,101.26 732.39,100.21 732.80,99.00 733.16,97.71 733.47,96.40 733.74,94.99 733.99,93.39 734.23,91.53 734.50,89.30 734.79,86.62 735.08,83.54 735.38,80.18 735.66,76.69 735.94,73.18 736.20,69.80 736.44,66.52 736.67,63.23 736.89,59.94 737.10,56.63 737.30,53.32 737.50,50.00 737.69,46.58 737.86,43.06 738.03,39.52 738.20,36.08 738.39,32.84 738.60,29.90 738.84,27.23 739.12,24.75 739.41,22.47 739.69,20.40 739.96,18.57 740.20,17.00 740.40,15.67 740.57,14.58 740.73,13.72 740.87,13.10 741.03,12.73 741.20,12.60 741.38,12.77 741.57,13.24 741.76,13.96 741.96,14.87 742.17,15.90 742.40,17.00 742.64,18.20 742.90,19.55 743.16,21.02 743.44,22.61 743.72,24.27 744.00,26.00 744.29,27.80 744.59,29.70 744.90,31.69 745.21,33.74 745.51,35.85 745.80,38.00 746.08,40.19 746.35,42.44 746.62,44.75 746.88,47.11 747.14,49.53 747.40,52.00 747.66,54.54 747.91,57.15 748.16,59.81 748.41,62.52 748.66,65.25 748.90,68.00 749.14,70.75 749.38,73.52 749.61,76.32 749.84,79.16 750.07,82.05 750.30,85.00 750.51,88.09 750.70,91.32 750.89,94.60 751.09,97.85 751.32,100.98 751.60,103.90 751.92,106.68 752.27,109.40 752.65,112.00 753.06,114.42 753.51,116.61 754.00,118.50 754.53,120.05 755.09,121.30 755.69,122.31 756.33,123.15 757.00,123.89 757.70,124.60 758.45,125.25 759.24,125.77 760.08,126.19 760.92,126.53 761.77,126.83 762.60,127.10 763.43,127.35 764.28,127.56 765.13,127.72 765.96,127.83 766.76,127.85 767.50,127.80 768.16,127.68 768.75,127.51 769.30,127.27 769.85,126.94 770.44,126.49 771.10,125.90 771.87,125.03 772.73,123.86 773.62,122.58 774.50,121.36 775.31,120.37 776.00,119.80 776.55,119.70 777.01,119.94 777.41,120.42 777.75,121.03 778.08,121.66 778.40,122.20 778.73,122.72 779.05,123.33 779.35,123.95 779.61,124.54 779.84,125.04 780.00,125.40" fill="none" stroke="#9090e0" stroke-width="0.75" stroke-linejoin="round"/>
<polyline points="679.00,113.70 679.47,113.48 680.14,113.17 680.92,112.81 681.75,112.42 682.57,112.04 683.30,111.70 683.96,111.42 684.60,111.19 685.22,110.96 685.83,110.70 686.42,110.40 687.00,110.00 687.58,109.41 688.16,108.64 688.72,107.81 689.24,107.06 689.71,106.51 690.10,106.30 690.37,106.45" fill="none" stroke="#3c3cc8" stroke-width="0.80" stroke-linejoin="round" stroke-linecap="round"/>
<polyline points="693.13,116.32 693.60,117.30 694.08,118.06 694.57,118.70 695.07,119.21 695.60,119.57 696.14,119.77 696.70,119.80 697.30,119.54 697.94,118.97 698.59,118.24 699.24,117.50 699.85,116.90 700.40,116.60 700.87,116.63 701.29,116.90 701.68,117.30 702.04,117.76 702.41,118.19 702.80,118.50 703.18,118.75 703.54,119.01 703.90,119.25 704.29,119.41 704.75,119.44 705.30,119.30 705.97,118.91 706.73,118.29 707.55,117.54 708.41,116.78 709.27,116.10 710.10,115.60 710.91,115.30 711.73,115.10 712.54,114.99 713.36,114.93 714.18,114.91 715.00,114.90 715.82,114.95 716.63,115.11 717.45,115.29 718.27,115.45 719.08,115.51 719.90,115.40 720.72,115.15 721.53,114.82 722.35,114.39 723.17,113.85 723.98,113.19 724.80,112.40 725.64,111.42 726.50,110.24 727.36,108.94 728.20,107.60 728.99,106.30 729.70,105.10 730.34,104.06 730.92,103.11 731.45,102.20 731.94,101.26" fill="none" stroke="#3c3cc8" stroke-width="0.80" stroke-linejoin="round" stroke-linecap="round"/>
<polyline points="741.03,12.73 741.20,12.60 741.38,12.77" fill="none" stroke="#3c3cc8" stroke-width="0.80" stroke-linejoin="round" stroke-linecap="round"/>
<polyline points="755.09,121.30 755.69,122.31 756.33,123.15 757.00,123.89 757.70,124.60 758.45,125.25 759.24,125.77 760.08,126.19 760.92,126.53 761.77,126.83 762.60,127.10 763.43,127.35 764.28,127.56 765.13,127.72 765.96,127.83 766.76,127.85 767.50,127.80 768.16,127.68 768.75,127.51 769.30,127.27 769.85,126.94 770.44,126.49 771.10,125.90 771.87,125.03 772.73,123.86 773.62,122.58 774.50,121.36 775.31,120.37 776.00,119.80 776.55,119.70 777.01,119.94 777.41,120.42 777.75,121.03 778.08,121.66 778.40,122.20 778.73,122.72 779.05,123.33 779.35,123.95" fill="none" stroke="#3c3cc8" stroke-width="0.80" stroke-linejoin="round" stroke-linecap="round"/>
<polyline points="779.84,125.04 780.00,125.40" fill="none" stroke="#3c3cc8" stroke-width="0.80" stroke-linejoin="round" stroke-linecap="round"/>
<polyline points="679.00,113.70 679.47,113.48 680.14,113.17 680.92,112.81 681.75,112.42 682.57,112.04 683.30,111.70 683.96,111.42 684.60,111.19 685.22,110.96 685.83,110.70 686.42,110.40 687.00,110.00 687.58,109.41 688.16,108.64 688.72,107.81 689.24,107.06 689.71,106.51 690.10,106.30 690.37,106.45 690.53,106.85 690.64,107.46 690.73,108.23 690.87,109.09 691.10,110.00 691.42,111.06 691.80,112.34 692.22,113.72 692.67,115.09 693.13,116.32 693.60,117.30 694.08,118.06 694.57,118.70 695.07,119.21 695.60,119.57 696.14,119.77 696.70,119.80 697.30,119.54 697.94,118.97 698.59,118.24 699.24,117.50 699.85,116.90 700.40,116.60 700.87,116.63 701.29,116.90 701.68,117.30 702.04,117.76 702.41,118.19 702.80,118.50 703.18,118.75 703.54,119.01 703.90,119.25 704.29,119.41 704.75,119.44 705.30,119.30 705.97,118.91 706.73,118.29 707.55,117.54 708.41,116.78 709.27,116.10 710.10,115.60 710.91,115.30 711.73,115.10 712.54,114.99 713.36,114.93 714.18,114.91 715.00,114.90 715.82,114.95 716.63,115.11 717.45,115.29 718.27,115.45 719.08,115.51 719.90,115.40 720.72,115.15 721.53,114.82 722.35,114.39 723.17,113.85 723.98,113.19 724.80,112.40 725.67,111.35 726.61,110.01 727.56,108.56 728.43,107.15 729.17,105.94 729.70,105.10" fill="none" stroke="none" stroke-width="0.01" stroke-linejoin="round"/>
<polyline points="679.00,113.70 679.47,113.48 680.14,113.17 680.92,112.81 681.75,112.42 682.57,112.04 683.30,111.70 683.96,111.42 684.60,111.19 685.22,110.96 685.83,110.70 686.42,110.40 687.00,110.00 687.58,109.41 688.16,108.64 688.72,107.81 689.24,107.06 689.71,106.51 690.10,106.30 690.37,106.45 690.53,106.85 690.64,107.46" fill="none" stroke="#2a2ac8" stroke-width="1.60" stroke-linejoin="round" stroke-linecap="round"/>
<polyline points="690.73,108.23 690.87,109.09 691.10,110.00 691.42,111.06 691.80,112.34 692.22,113.72 692.67,115.09 693.13,116.32 693.60,117.30 694.08,118.06 694.57,118.70 695.07,119.21 695.60,119.57 696.14,119.77 696.70,119.80 697.30,119.54 697.94,118.97 698.59,118.24 699.24,117.50 699.85,116.90 700.40,116.60 700.87,116.63 701.29,116.90 701.68,117.30 702.04,117.76 702.41,118.19 702.80,118.50 703.18,118.75 703.54,119.01 703.90,119.25 704.29,119.41 704.75,119.44 705.30,119.30 705.97,118.91 706.73,118.29 707.55,117.54 708.41,116.78 709.27,116.10 710.10,115.60 710.91,115.30 711.73,115.10 712.54,114.99 713.36,114.93 714.18,114.91 715.00,114.90 715.82,114.95 716.63,115.11 717.45,115.29 718.27,115.45 719.08,115.51 719.90,115.40 720.72,115.15 721.53,114.82 722.35,114.39 723.17,113.85 723.98,113.19 724.80,112.40 725.67,111.35 726.61,110.01 727.56,108.56 728.43,107.15 729.17,105.94 729.70,105.10" fill="none" stroke="#2a2ac8" stroke-width="1.60" stroke-linejoin="round" stroke-linecap="round"/>
<polyline points="754.00,118.50 754.39,119.21 754.91,120.21 755.54,121.39 756.24,122.61 756.97,123.72 757.70,124.60 758.45,125.25 759.24,125.77 760.08,126.19 760.92,126.53 761.77,126.83 762.60,127.10 763.43,127.35 764.28,127.56 765.13,127.72 765.96,127.83 766.76,127.85 767.50,127.80 768.16,127.68 768.75,127.51 769.30,127.27 769.85,126.94 770.44,126.49 771.10,125.90 771.87,125.03 772.73,123.86 773.62,122.58 774.50,121.36 775.31,120.37 776.00,119.80 776.55,119.70 777.01,119.94 777.41,120.42 777.75,121.03 778.08,121.66 778.40,122.20 778.73,122.72 779.05,123.33 779.35,123.95 779.61,124.54 779.84,125.04 780.00,125.40" fill="none" stroke="none" stroke-width="0.01" stroke-linejoin="round"/>
<polyline points="754.00,118.50 754.39,119.21 754.91,120.21 755.54,121.39 756.24,122.61 756.97,123.72 757.70,124.60 758.45,125.25 759.24,125.77 760.08,126.19 760.92,126.53 761.77,126.83 762.60,127.10 763.43,127.35 764.28,127.56 765.13,127.72 765.96,127.83 766.76,127.85 767.50,127.80 768.16,127.68 768.75,127.51 769.30,127.27 769.85,126.94 770.44,126.49 771.10,125.90 771.87,125.03 772.73,123.86 773.62,122.58 774.50,121.36 775.31,120.37 776.00,119.80 776.55,119.70 777.01,119.94 777.41,120.42 777.75,121.03 778.08,121.66 778.40,122.20 778.73,122.72 779.05,123.33 779.35,123.95 779.61,124.54 779.84,125.04 780.00,125.40" fill="none" stroke="#2a2ac8" stroke-width="1.60" stroke-linejoin="round" stroke-linecap="round"/>
<path d="M536.5,298.8 V168.5 H641.3 V298.8" fill="none" stroke="#7a7a7a" stroke-width="0.9"/>
<path d="M536.5,170.5 V298.8 H641.3" fill="none" stroke="#555" stroke-width="0.9"/>
<line x1="532.7" y1="179.8" x2="536.5" y2="179.8" stroke="#444" stroke-width="0.8"/>
<line x1="532.7" y1="190.3" x2="536.5" y2="190.3" stroke="#444" stroke-width="0.8"/>
<line x1="532.7" y1="200.5" x2="536.5" y2="200.5" stroke="#444" stroke-width="0.8"/>
<line x1="532.7" y1="210.6" x2="536.5" y2="210.6" stroke="#444" stroke-width="0.8"/>
<line x1="532.7" y1="220.6" x2="536.5" y2="220.6" stroke="#444" stroke-width="0.8"/>
<line x1="532.7" y1="230.5" x2="536.5" y2="230.5" stroke="#444" stroke-width="0.8"/>
<line x1="532.7" y1="240.8" x2="536.5" y2="240.8" stroke="#444" stroke-width="0.8"/>
<line x1="532.7" y1="251.8" x2="536.5" y2="251.8" stroke="#444" stroke-width="0.8"/>
<line x1="532.7" y1="262.2" x2="536.5" y2="262.2" stroke="#444" stroke-width="0.8"/>
<line x1="532.7" y1="272.1" x2="536.5" y2="272.1" stroke="#444" stroke-width="0.8"/>
<line x1="532.7" y1="282.1" x2="536.5" y2="282.1" stroke="#444" stroke-width="0.8"/>
<line x1="532.7" y1="292.9" x2="536.5" y2="292.9" stroke="#444" stroke-width="0.8"/>
<text x="518.3" y="183.1" font-size="8">220</text>
<text x="518.3" y="193.7" font-size="8">200</text>
<text x="518.3" y="203.5" font-size="8">180</text>
<text x="518.3" y="213.2" font-size="8">160</text>
<text x="518.3" y="223.8" font-size="8">140</text>
<text x="518.3" y="233.9" font-size="8">120</text>
<text x="518.3" y="243.8" font-size="8">100</text>
<text x="518.3" y="254.5" font-size="8">80</text>
<text x="518.3" y="264.6" font-size="8">60</text>
<text x="518.3" y="274.8" font-size="8">40</text>
<text x="518.3" y="285.3" font-size="8">20</text>
<text x="518.3" y="295.5" font-size="8">0</text>
<line x1="541.5" y1="298.8" x2="541.5" y2="302.4" stroke="#333" stroke-width="0.9"/>
<text x="542.3" y="312.7" font-size="9.4" text-anchor="middle">30</text>
<line x1="557.4" y1="298.8" x2="557.4" y2="302.4" stroke="#333" stroke-width="0.9"/>
<text x="558.5" y="312.7" font-size="9.4" text-anchor="middle">40</text>
<line x1="573.2" y1="298.8" x2="573.2" y2="302.4" stroke="#333" stroke-width="0.9"/>
<text x="574.8" y="312.7" font-size="9.4" text-anchor="middle">50</text>
<line x1="589.0" y1="298.8" x2="589.0" y2="302.4" stroke="#333" stroke-width="0.9"/>
<text x="591.0" y="312.7" font-size="9.4" text-anchor="middle">60</text>
<line x1="604.9" y1="298.8" x2="604.9" y2="302.4" stroke="#333" stroke-width="0.9"/>
<text x="607.2" y="312.7" font-size="9.4" text-anchor="middle">70</text>
<line x1="620.8" y1="298.8" x2="620.8" y2="302.4" stroke="#333" stroke-width="0.9"/>
<text x="623.4" y="312.7" font-size="9.4" text-anchor="middle">80</text>
<line x1="636.6" y1="298.8" x2="636.6" y2="302.4" stroke="#333" stroke-width="0.9"/>
<text x="639.7" y="312.7" font-size="9.4" text-anchor="middle">90</text>
<text x="591.4" y="322.8" font-size="9.2" text-anchor="middle">Volume (mL)</text>
<text transform="translate(513.7,235.2) rotate(-90)" font-size="9.3" text-anchor="middle">mAU (A<tspan font-size="5.6" dy="2.2">280</tspan><tspan dy="-2.2"> nm)</tspan></text>
<text x="540.0" y="180.3" font-size="10.3">CTRL.</text>
<text x="636.8" y="177.7" font-size="8.1" text-anchor="end">TOP2-M</text>
<line x1="542.0" y1="292.7" x2="542.0" y2="298.0" stroke="#f2a0a0" stroke-width="0.5" stroke-dasharray="0.8,0.8"/>
<line x1="548.8" y1="292.7" x2="548.8" y2="298.0" stroke="#f2a0a0" stroke-width="0.5" stroke-dasharray="0.8,0.8"/>
<line x1="555.6" y1="292.7" x2="555.6" y2="298.0" stroke="#f2a0a0" stroke-width="0.5" stroke-dasharray="0.8,0.8"/>
<line x1="562.4" y1="292.7" x2="562.4" y2="298.0" stroke="#f2a0a0" stroke-width="0.5" stroke-dasharray="0.8,0.8"/>
<line x1="569.1" y1="292.7" x2="569.1" y2="298.0" stroke="#f2a0a0" stroke-width="0.5" stroke-dasharray="0.8,0.8"/>
<line x1="575.9" y1="292.7" x2="575.9" y2="298.0" stroke="#f2a0a0" stroke-width="0.5" stroke-dasharray="0.8,0.8"/>
<line x1="582.7" y1="292.7" x2="582.7" y2="298.0" stroke="#f2a0a0" stroke-width="0.5" stroke-dasharray="0.8,0.8"/>
<line x1="589.5" y1="292.7" x2="589.5" y2="298.0" stroke="#f2a0a0" stroke-width="0.5" stroke-dasharray="0.8,0.8"/>
<line x1="596.3" y1="292.7" x2="596.3" y2="298.0" stroke="#f2a0a0" stroke-width="0.5" stroke-dasharray="0.8,0.8"/>
<line x1="603.1" y1="292.7" x2="603.1" y2="298.0" stroke="#f2a0a0" stroke-width="0.5" stroke-dasharray="0.8,0.8"/>
<line x1="609.9" y1="292.7" x2="609.9" y2="298.0" stroke="#f2a0a0" stroke-width="0.5" stroke-dasharray="0.8,0.8"/>
<line x1="616.6" y1="292.7" x2="616.6" y2="298.0" stroke="#f2a0a0" stroke-width="0.5" stroke-dasharray="0.8,0.8"/>
<line x1="623.4" y1="292.7" x2="623.4" y2="298.0" stroke="#f2a0a0" stroke-width="0.5" stroke-dasharray="0.8,0.8"/>
<line x1="630.2" y1="292.7" x2="630.2" y2="298.0" stroke="#f2a0a0" stroke-width="0.5" stroke-dasharray="0.8,0.8"/>
<line x1="637.0" y1="292.7" x2="637.0" y2="298.0" stroke="#f2a0a0" stroke-width="0.5" stroke-dasharray="0.8,0.8"/>
<text class="fr" x="545.4" y="297.4" text-anchor="middle" font-size="2.8">A1</text>
<text class="fr" x="552.2" y="297.4" text-anchor="middle" font-size="2.8">A2</text>
<text class="fr" x="559.0" y="297.4" text-anchor="middle" font-size="2.8">A3</text>
<text class="fr" x="565.8" y="297.4" text-anchor="middle" font-size="2.8">A4</text>
<text class="fr" x="572.5" y="297.4" text-anchor="middle" font-size="2.8">A5</text>
<text class="fr" x="579.3" y="297.4" text-anchor="middle" font-size="2.8">A6</text>
<text class="fr" x="586.1" y="297.4" text-anchor="middle" font-size="2.8">A7</text>
<text class="fr" x="592.9" y="297.4" text-anchor="middle" font-size="2.8">A8</text>
<text class="fr" x="599.7" y="297.4" text-anchor="middle" font-size="2.8">A9</text>
<text class="fr" x="606.5" y="297.4" text-anchor="middle" font-size="2.8">A10</text>
<text class="fr" x="613.2" y="297.4" text-anchor="middle" font-size="2.8">A11</text>
<text class="fr" x="620.0" y="297.4" text-anchor="middle" font-size="2.8">A12</text>
<text class="fr" x="626.8" y="297.4" text-anchor="middle" font-size="2.8">A13</text>
<text class="fr" x="633.6" y="297.4" text-anchor="middle" font-size="2.8">A14</text>
<polyline points="539.10,277.50 539.33,278.19 539.65,279.14 540.02,280.27 540.44,281.49 540.87,282.73 541.30,283.90 541.73,285.06 542.19,286.28 542.67,287.52 543.15,288.72 543.63,289.83 544.10,290.80 544.54,291.63 544.97,292.36 545.39,293.00 545.83,293.56 546.29,294.06 546.80,294.50 547.36,294.88 547.96,295.18 548.59,295.42 549.24,295.60 549.88,295.72 550.50,295.80 551.12,295.82 551.74,295.79 552.36,295.69 552.96,295.56 553.55,295.39 554.10,295.20 554.60,294.96 555.06,294.67 555.50,294.34 555.94,294.01 556.40,293.68 556.90,293.40 557.42,293.15 557.94,292.93 558.48,292.72 559.06,292.51 559.73,292.31 560.50,292.10 561.42,291.89 562.46,291.69 563.58,291.48 564.73,291.27 565.85,291.05 566.90,290.80 567.88,290.54 568.83,290.26 569.76,289.97 570.67,289.66 571.55,289.34 572.40,289.00 573.24,288.64 574.07,288.26 574.88,287.86 575.64,287.44 576.35,287.02 577.00,286.60 577.57,286.18 578.07,285.76 578.52,285.33 578.94,284.89 579.32,284.41 579.70,283.90 580.05,283.38 580.36,282.87 580.65,282.34 580.93,281.74 581.20,281.04 581.50,280.20 581.81,279.23 582.13,278.17 582.45,277.01 582.77,275.74 583.09,274.37 583.40,272.90 583.71,271.29 584.01,269.52 584.31,267.66 584.60,265.73 584.90,263.80 585.20,261.90 585.50,259.95 585.81,257.90 586.12,255.83 586.42,253.85 586.72,252.04 587.00,250.50 587.27,249.21 587.53,248.10 587.78,247.17 588.03,246.41 588.27,245.82 588.50,245.40 588.72,245.12 588.93,244.98 589.13,245.01 589.34,245.24 589.56,245.73 589.80,246.50 590.07,247.66 590.36,249.21 590.67,251.00 590.98,252.90 591.29,254.78 591.60,256.50 591.89,258.11 592.18,259.72 592.46,261.31 592.76,262.84 593.07,264.28 593.40,265.60 593.77,266.87 594.16,268.14 594.57,269.32 594.99,270.31 595.40,271.04 595.80,271.40 596.19,271.39 596.59,271.08 596.97,270.50 597.35,269.67 597.69,268.63 598.00,267.40 598.26,265.85 598.48,263.93 598.67,261.79 598.84,259.59 599.02,257.47 599.20,255.60 599.39,254.00 599.58,252.57 599.76,251.22 599.94,249.90 600.12,248.51 600.30,247.00 600.47,245.59 600.63,244.39 600.79,243.13 600.95,241.55 601.12,239.39 601.30,236.40 601.50,232.30 601.71,227.24 601.92,221.60 602.15,215.76 602.37,210.10 602.60,205.00 602.83,200.23 603.07,195.43 603.31,190.82 603.55,186.58 603.78,182.91 604.00,180.00 604.20,177.99 604.39,176.74 604.56,176.06 604.74,175.76 604.91,175.64 605.10,175.50 605.29,175.39 605.48,175.48 605.68,175.75 605.87,176.19 606.08,176.77 606.30,177.50 606.53,178.00 606.76,178.20 606.99,178.56 607.24,179.52 607.51,181.52 607.80,185.00 608.13,190.65 608.49,198.26 608.88,206.90 609.25,215.68 609.60,223.68 609.90,230.00 610.14,234.49 610.34,237.85 610.52,240.43 610.68,242.60 610.83,244.70 611.00,247.10 611.17,249.73 611.32,252.30 611.48,254.81 611.63,257.26 611.81,259.66 612.00,262.00 612.22,264.33 612.46,266.65 612.71,268.91 612.97,271.07 613.23,273.09 613.50,274.90 613.77,276.50 614.03,277.92 614.31,279.19 614.59,280.34 614.89,281.40 615.20,282.40 615.53,283.30 615.86,284.08 616.21,284.77 616.57,285.40 616.97,286.00 617.40,286.60 617.86,287.20 618.36,287.78 618.88,288.33 619.42,288.84 620.00,289.34 620.60,289.80 621.23,290.25 621.88,290.67 622.56,291.07 623.27,291.44 624.02,291.75 624.80,292.00 625.62,292.18 626.47,292.28 627.36,292.34 628.28,292.36 629.23,292.38 630.20,292.40 631.23,292.42 632.34,292.42 633.47,292.41 634.59,292.40 635.64,292.39 636.60,292.40 637.49,292.42 638.35,292.46 639.15,292.50 639.86,292.54 640.46,292.58 640.90,292.60" fill="none" stroke="#9090e0" stroke-width="0.75" stroke-linejoin="round"/>
<polyline points="543.63,289.83 544.10,290.80 544.54,291.63 544.97,292.36 545.39,293.00 545.83,293.56 546.29,294.06 546.80,294.50 547.36,294.88 547.96,295.18 548.59,295.42 549.24,295.60 549.88,295.72 550.50,295.80 551.12,295.82 551.74,295.79 552.36,295.69 552.96,295.56 553.55,295.39 554.10,295.20 554.60,294.96 555.06,294.67 555.50,294.34 555.94,294.01 556.40,293.68 556.90,293.40 557.42,293.15 557.94,292.93 558.48,292.72 559.06,292.51 559.73,292.31 560.50,292.10 561.42,291.89 562.46,291.69 563.58,291.48 564.73,291.27 565.85,291.05 566.90,290.80 567.88,290.54 568.83,290.26 569.76,289.97 570.67,289.66 571.55,289.34 572.40,289.00 573.24,288.64 574.07,288.26 574.88,287.86 575.64,287.44 576.35,287.02 577.00,286.60 577.57,286.18 578.07,285.76 578.52,285.33 578.94,284.89 579.32,284.41 579.70,283.90 580.05,283.38 580.36,282.87 580.65,282.34 580.93,281.74" fill="none" stroke="#6262d4" stroke-width="0.80" stroke-linejoin="round" stroke-linecap="round"/>
<polyline points="588.27,245.82 588.50,245.40 588.72,245.12 588.93,244.98 589.13,245.01 589.34,245.24" fill="none" stroke="#6262d4" stroke-width="0.80" stroke-linejoin="round" stroke-linecap="round"/>
<polyline points="594.99,270.31 595.40,271.04 595.80,271.40 596.19,271.39 596.59,271.08 596.97,270.50" fill="none" stroke="#6262d4" stroke-width="0.80" stroke-linejoin="round" stroke-linecap="round"/>
<polyline points="604.56,176.06 604.74,175.76 604.91,175.64 605.10,175.50 605.29,175.39 605.48,175.48 605.68,175.75 605.87,176.19" fill="none" stroke="#6262d4" stroke-width="0.80" stroke-linejoin="round" stroke-linecap="round"/>
<polyline points="606.53,178.00 606.76,178.20 606.99,178.56" fill="none" stroke="#6262d4" stroke-width="0.80" stroke-linejoin="round" stroke-linecap="round"/>
<polyline points="615.86,284.08 616.21,284.77 616.57,285.40 616.97,286.00 617.40,286.60 617.86,287.20 618.36,287.78 618.88,288.33 619.42,288.84 620.00,289.34 620.60,289.80 621.23,290.25 621.88,290.67 622.56,291.07 623.27,291.44 624.02,291.75 624.80,292.00 625.62,292.18 626.47,292.28 627.36,292.34 628.28,292.36 629.23,292.38 630.20,292.40 631.23,292.42 632.34,292.42 633.47,292.41 634.59,292.40 635.64,292.39 636.60,292.40 637.49,292.42 638.35,292.46 639.15,292.50 639.86,292.54 640.46,292.58 640.90,292.60" fill="none" stroke="#6262d4" stroke-width="0.80" stroke-linejoin="round" stroke-linecap="round"/>
<text x="564.2" y="244.2" font-size="8.1">TOP2-D</text>
<path d="M676.5,298.8 V168.5 H781.4 V298.8" fill="none" stroke="#7a7a7a" stroke-width="0.9"/>
<path d="M676.5,170.5 V298.8 H781.4" fill="none" stroke="#555" stroke-width="0.9"/>
<line x1="672.7" y1="179.8" x2="676.5" y2="179.8" stroke="#444" stroke-width="0.8"/>
<line x1="672.7" y1="190.3" x2="676.5" y2="190.3" stroke="#444" stroke-width="0.8"/>
<line x1="672.7" y1="200.5" x2="676.5" y2="200.5" stroke="#444" stroke-width="0.8"/>
<line x1="672.7" y1="210.6" x2="676.5" y2="210.6" stroke="#444" stroke-width="0.8"/>
<line x1="672.7" y1="220.6" x2="676.5" y2="220.6" stroke="#444" stroke-width="0.8"/>
<line x1="672.7" y1="230.5" x2="676.5" y2="230.5" stroke="#444" stroke-width="0.8"/>
<line x1="672.7" y1="240.8" x2="676.5" y2="240.8" stroke="#444" stroke-width="0.8"/>
<line x1="672.7" y1="251.8" x2="676.5" y2="251.8" stroke="#444" stroke-width="0.8"/>
<line x1="672.7" y1="262.2" x2="676.5" y2="262.2" stroke="#444" stroke-width="0.8"/>
<line x1="672.7" y1="272.1" x2="676.5" y2="272.1" stroke="#444" stroke-width="0.8"/>
<line x1="672.7" y1="282.1" x2="676.5" y2="282.1" stroke="#444" stroke-width="0.8"/>
<line x1="672.7" y1="292.9" x2="676.5" y2="292.9" stroke="#444" stroke-width="0.8"/>
<text x="658.3" y="183.1" font-size="8">220</text>
<text x="658.3" y="193.7" font-size="8">200</text>
<text x="658.3" y="203.5" font-size="8">180</text>
<text x="658.3" y="213.2" font-size="8">160</text>
<text x="658.3" y="223.8" font-size="8">140</text>
<text x="658.3" y="233.9" font-size="8">120</text>
<text x="658.3" y="243.8" font-size="8">100</text>
<text x="658.3" y="254.5" font-size="8">80</text>
<text x="658.3" y="264.6" font-size="8">60</text>
<text x="658.3" y="274.8" font-size="8">40</text>
<text x="658.3" y="285.3" font-size="8">20</text>
<text x="658.3" y="295.5" font-size="8">0</text>
<line x1="681.5" y1="298.8" x2="681.5" y2="302.4" stroke="#333" stroke-width="0.9"/>
<text x="682.3" y="312.7" font-size="9.4" text-anchor="middle">30</text>
<line x1="697.4" y1="298.8" x2="697.4" y2="302.4" stroke="#333" stroke-width="0.9"/>
<text x="698.5" y="312.7" font-size="9.4" text-anchor="middle">40</text>
<line x1="713.2" y1="298.8" x2="713.2" y2="302.4" stroke="#333" stroke-width="0.9"/>
<text x="714.8" y="312.7" font-size="9.4" text-anchor="middle">50</text>
<line x1="729.0" y1="298.8" x2="729.0" y2="302.4" stroke="#333" stroke-width="0.9"/>
<text x="731.0" y="312.7" font-size="9.4" text-anchor="middle">60</text>
<line x1="744.9" y1="298.8" x2="744.9" y2="302.4" stroke="#333" stroke-width="0.9"/>
<text x="747.2" y="312.7" font-size="9.4" text-anchor="middle">70</text>
<line x1="760.8" y1="298.8" x2="760.8" y2="302.4" stroke="#333" stroke-width="0.9"/>
<text x="763.4" y="312.7" font-size="9.4" text-anchor="middle">80</text>
<line x1="776.6" y1="298.8" x2="776.6" y2="302.4" stroke="#333" stroke-width="0.9"/>
<text x="779.7" y="312.7" font-size="9.4" text-anchor="middle">90</text>
<text x="731.4" y="322.8" font-size="9.2" text-anchor="middle">Volume (mL)</text>
<text transform="translate(653.7,235.2) rotate(-90)" font-size="9.3" text-anchor="middle">mAU (A<tspan font-size="5.6" dy="2.2">280</tspan><tspan dy="-2.2"> nm)</tspan></text>
<text x="679.7" y="180.5" font-size="10.3">DTT</text>
<text x="777.1" y="177.7" font-size="8.1" text-anchor="end">TOP2-M</text>
<line x1="682.0" y1="292.7" x2="682.0" y2="298.0" stroke="#f2a0a0" stroke-width="0.5" stroke-dasharray="0.8,0.8"/>
<line x1="689.0" y1="292.7" x2="689.0" y2="298.0" stroke="#f2a0a0" stroke-width="0.5" stroke-dasharray="0.8,0.8"/>
<line x1="696.0" y1="292.7" x2="696.0" y2="298.0" stroke="#f2a0a0" stroke-width="0.5" stroke-dasharray="0.8,0.8"/>
<line x1="703.0" y1="292.7" x2="703.0" y2="298.0" stroke="#f2a0a0" stroke-width="0.5" stroke-dasharray="0.8,0.8"/>
<line x1="710.0" y1="292.7" x2="710.0" y2="298.0" stroke="#f2a0a0" stroke-width="0.5" stroke-dasharray="0.8,0.8"/>
<line x1="717.0" y1="292.7" x2="717.0" y2="298.0" stroke="#f2a0a0" stroke-width="0.5" stroke-dasharray="0.8,0.8"/>
<line x1="724.0" y1="292.7" x2="724.0" y2="298.0" stroke="#f2a0a0" stroke-width="0.5" stroke-dasharray="0.8,0.8"/>
<line x1="731.0" y1="292.7" x2="731.0" y2="298.0" stroke="#f2a0a0" stroke-width="0.5" stroke-dasharray="0.8,0.8"/>
<line x1="738.0" y1="292.7" x2="738.0" y2="298.0" stroke="#f2a0a0" stroke-width="0.5" stroke-dasharray="0.8,0.8"/>
<line x1="745.0" y1="292.7" x2="745.0" y2="298.0" stroke="#f2a0a0" stroke-width="0.5" stroke-dasharray="0.8,0.8"/>
<line x1="752.0" y1="292.7" x2="752.0" y2="298.0" stroke="#f2a0a0" stroke-width="0.5" stroke-dasharray="0.8,0.8"/>
<line x1="759.0" y1="292.7" x2="759.0" y2="298.0" stroke="#f2a0a0" stroke-width="0.5" stroke-dasharray="0.8,0.8"/>
<line x1="766.0" y1="292.7" x2="766.0" y2="298.0" stroke="#f2a0a0" stroke-width="0.5" stroke-dasharray="0.8,0.8"/>
<line x1="773.0" y1="292.7" x2="773.0" y2="298.0" stroke="#f2a0a0" stroke-width="0.5" stroke-dasharray="0.8,0.8"/>
<line x1="780.0" y1="292.7" x2="780.0" y2="298.0" stroke="#f2a0a0" stroke-width="0.5" stroke-dasharray="0.8,0.8"/>
<text class="fr" x="685.5" y="297.4" text-anchor="middle" font-size="2.8">A1</text>
<text class="fr" x="692.5" y="297.4" text-anchor="middle" font-size="2.8">A2</text>
<text class="fr" x="699.5" y="297.4" text-anchor="middle" font-size="2.8">A3</text>
<text class="fr" x="706.5" y="297.4" text-anchor="middle" font-size="2.8">A4</text>
<text class="fr" x="713.5" y="297.4" text-anchor="middle" font-size="2.8">A5</text>
<text class="fr" x="720.5" y="297.4" text-anchor="middle" font-size="2.8">A6</text>
<text class="fr" x="727.5" y="297.4" text-anchor="middle" font-size="2.8">A7</text>
<text class="fr" x="734.5" y="297.4" text-anchor="middle" font-size="2.8">A8</text>
<text class="fr" x="741.5" y="297.4" text-anchor="middle" font-size="2.8">A9</text>
<text class="fr" x="748.5" y="297.4" text-anchor="middle" font-size="2.8">A10</text>
<text class="fr" x="755.5" y="297.4" text-anchor="middle" font-size="2.8">A11</text>
<text class="fr" x="762.5" y="297.4" text-anchor="middle" font-size="2.8">A12</text>
<text class="fr" x="769.5" y="297.4" text-anchor="middle" font-size="2.8">A13</text>
<text class="fr" x="776.5" y="297.4" text-anchor="middle" font-size="2.8">A14</text>
<polyline points="678.00,283.00 678.26,283.02 678.61,283.03 679.03,283.06 679.49,283.12 679.95,283.26 680.40,283.50 680.83,283.86 681.27,284.32 681.73,284.85 682.18,285.43 682.64,286.02 683.10,286.60 683.55,287.20 684.00,287.84 684.44,288.49 684.90,289.14 685.39,289.75 685.90,290.30 686.45,290.78 687.04,291.22 687.64,291.62 688.26,291.99 688.88,292.35 689.50,292.70 690.12,293.06 690.76,293.43 691.41,293.79 692.04,294.10 692.64,294.35 693.20,294.50 693.70,294.54 694.14,294.49 694.55,294.37 694.96,294.21 695.40,294.05 695.90,293.90 696.46,293.74 697.06,293.53 697.69,293.32 698.33,293.13 698.97,293.01 699.60,293.00 700.21,293.12 700.80,293.35 701.40,293.65 702.01,293.97 702.64,294.27 703.30,294.50 703.99,294.67 704.70,294.82 705.44,294.94 706.20,295.05 706.98,295.13 707.80,295.20 708.67,295.25 709.59,295.27 710.54,295.27 711.50,295.26 712.42,295.23 713.30,295.20 714.13,295.17 714.94,295.13 715.72,295.09 716.47,295.02 717.20,294.93 717.90,294.80 718.56,294.64 719.17,294.45 719.76,294.24 720.33,293.99 720.91,293.71 721.50,293.40 722.11,293.05 722.73,292.68 723.35,292.27 723.97,291.83 724.59,291.34 725.20,290.80 725.80,290.18 726.40,289.46 727.00,288.71 727.60,287.95 728.20,287.23 728.80,286.60 729.42,286.06 730.04,285.57 730.67,285.12 731.29,284.71 731.91,284.30 732.50,283.90 733.09,283.54 733.69,283.24 734.27,282.95 734.83,282.63 735.34,282.23 735.80,281.70 736.19,281.11 736.53,280.50 736.83,279.81 737.09,278.98 737.35,277.93 737.60,276.60 737.85,274.96 738.07,273.04 738.28,270.91 738.49,268.63 738.69,266.24 738.90,263.80 739.12,261.27 739.34,258.60 739.56,255.83 739.78,253.00 739.99,250.14 740.20,247.30 740.39,244.55 740.58,241.88 740.76,239.18 740.93,236.37 741.11,233.34 741.30,230.00 741.49,226.24 741.69,222.13 741.89,217.79 742.09,213.40 742.29,209.08 742.50,205.00 742.71,201.00 742.93,196.93 743.16,192.95 743.38,189.20 743.59,185.83 743.80,183.00 743.99,180.70 744.17,178.82 744.35,177.33 744.53,176.18 744.71,175.35 744.90,174.80 745.10,174.62 745.31,174.85 745.52,175.39 745.74,176.16 745.97,177.06 746.20,178.00 746.43,178.77 746.65,179.40 746.88,180.17 747.13,181.33 747.40,183.15 747.70,185.90 748.07,190.03 748.49,195.42 748.94,201.47 749.38,207.58 749.78,213.16 750.10,217.60 750.34,220.78 750.51,223.15 750.64,224.98 750.75,226.55 750.86,228.13 751.00,230.00 751.16,232.08 751.31,234.16 751.46,236.24 751.63,238.36 751.80,240.53 752.00,242.80 752.22,245.20 752.46,247.72 752.71,250.30 752.97,252.88 753.23,255.40 753.50,257.80 753.77,260.08 754.03,262.31 754.31,264.47 754.59,266.57 754.89,268.61 755.20,270.60 755.53,272.54 755.89,274.44 756.25,276.28 756.63,278.05 757.01,279.73 757.40,281.30 757.80,282.77 758.20,284.16 758.61,285.46 759.03,286.66 759.46,287.78 759.90,288.80 760.34,289.72 760.80,290.54 761.26,291.27 761.73,291.92 762.21,292.49 762.70,293.00 763.17,293.42 763.62,293.75 764.07,294.00 764.58,294.20 765.18,294.36 765.90,294.50 766.75,294.61 767.71,294.67 768.76,294.69 769.88,294.70 771.06,294.69 772.30,294.70 773.72,294.71 775.35,294.71 777.05,294.71 778.66,294.71 780.03,294.70 781.00,294.70" fill="none" stroke="#9090e0" stroke-width="0.75" stroke-linejoin="round"/>
<polyline points="678.00,283.00 678.26,283.02 678.61,283.03 679.03,283.06 679.49,283.12 679.95,283.26 680.40,283.50 680.83,283.86 681.27,284.32 681.73,284.85 682.18,285.43 682.64,286.02 683.10,286.60 683.55,287.20 684.00,287.84 684.44,288.49 684.90,289.14 685.39,289.75 685.90,290.30 686.45,290.78 687.04,291.22 687.64,291.62 688.26,291.99 688.88,292.35 689.50,292.70 690.12,293.06 690.76,293.43 691.41,293.79 692.04,294.10 692.64,294.35 693.20,294.50 693.70,294.54 694.14,294.49 694.55,294.37 694.96,294.21 695.40,294.05 695.90,293.90 696.46,293.74 697.06,293.53 697.69,293.32 698.33,293.13 698.97,293.01 699.60,293.00 700.21,293.12 700.80,293.35 701.40,293.65 702.01,293.97 702.64,294.27 703.30,294.50 703.99,294.67 704.70,294.82 705.44,294.94 706.20,295.05 706.98,295.13 707.80,295.20 708.67,295.25 709.59,295.27 710.54,295.27 711.50,295.26 712.42,295.23 713.30,295.20 714.13,295.17 714.94,295.13 715.72,295.09 716.47,295.02 717.20,294.93 717.90,294.80 718.56,294.64 719.17,294.45 719.76,294.24 720.33,293.99 720.91,293.71 721.50,293.40 722.11,293.05 722.73,292.68 723.35,292.27 723.97,291.83 724.59,291.34 725.20,290.80 725.80,290.18 726.40,289.46 727.00,288.71 727.60,287.95 728.20,287.23 728.80,286.60 729.42,286.06 730.04,285.57 730.67,285.12 731.29,284.71 731.91,284.30 732.50,283.90 733.09,283.54 733.69,283.24 734.27,282.95 734.83,282.63 735.34,282.23 735.80,281.70 736.19,281.11 736.53,280.50" fill="none" stroke="#6262d4" stroke-width="0.80" stroke-linejoin="round" stroke-linecap="round"/>
<polyline points="744.90,174.80 745.10,174.62 745.31,174.85" fill="none" stroke="#6262d4" stroke-width="0.80" stroke-linejoin="round" stroke-linecap="round"/>
<polyline points="759.90,288.80 760.34,289.72 760.80,290.54 761.26,291.27 761.73,291.92 762.21,292.49 762.70,293.00 763.17,293.42 763.62,293.75 764.07,294.00 764.58,294.20 765.18,294.36 765.90,294.50 766.75,294.61 767.71,294.67 768.76,294.69 769.88,294.70 771.06,294.69 772.30,294.70 773.72,294.71 775.35,294.71 777.05,294.71 778.66,294.71 780.03,294.70 781.00,294.70" fill="none" stroke="#6262d4" stroke-width="0.80" stroke-linejoin="round" stroke-linecap="round"/>
</svg></body></html>
